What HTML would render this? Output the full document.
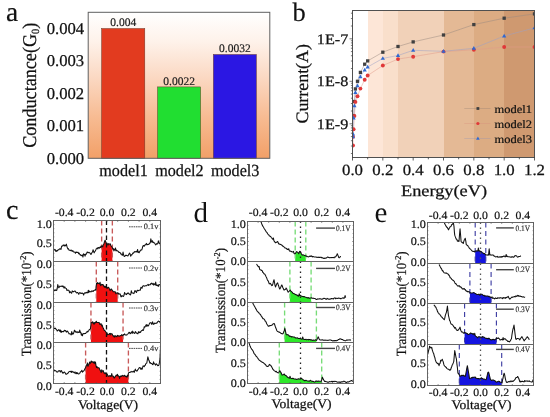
<!DOCTYPE html>
<html><head><meta charset="utf-8"><style>html,body{margin:0;padding:0;background:#fff;width:550px;height:417px;overflow:hidden} svg{display:block;will-change:transform} text{text-rendering:geometricPrecision}</style></head>
<body><svg width="550" height="417" viewBox="0 0 550 417"><defs><linearGradient id="ga" x1="0" y1="0" x2="0" y2="1"><stop offset="0" stop-color="#ffffff"/><stop offset="0.2" stop-color="#fef2ea"/><stop offset="0.45" stop-color="#fbd8c2"/><stop offset="0.72" stop-color="#f7bb92"/><stop offset="1" stop-color="#f2a068"/></linearGradient></defs>
<rect x="88.20" y="12.30" width="181.60" height="146.00" fill="url(#ga)"/>
<rect x="101.60" y="28.50" width="43.20" height="129.80" fill="#e23b1f" stroke="#6a3a2a" stroke-width="0.5"/>
<text x="123.20" y="26.30" font-family="Liberation Serif" font-size="11.5" text-anchor="middle" fill="#222" stroke="#222" stroke-width="0.2">0.004</text>
<rect x="157.50" y="86.91" width="43.20" height="71.39" fill="#21de31" stroke="#6a3a2a" stroke-width="0.5"/>
<text x="179.10" y="84.71" font-family="Liberation Serif" font-size="11.5" text-anchor="middle" fill="#222" stroke="#222" stroke-width="0.2">0.0022</text>
<rect x="213.30" y="54.46" width="43.10" height="103.84" fill="#2b17e3" stroke="#6a3a2a" stroke-width="0.5"/>
<text x="234.85" y="52.26" font-family="Liberation Serif" font-size="11.5" text-anchor="middle" fill="#222" stroke="#222" stroke-width="0.2">0.0032</text>
<rect x="88.20" y="12.30" width="181.60" height="146.00" fill="none" stroke="#606060" stroke-width="1.0"/>
<text x="84.20" y="163.80" font-family="Liberation Serif" font-size="16.5" text-anchor="end" textLength="37.5" lengthAdjust="spacingAndGlyphs" fill="#111" stroke="#111" stroke-width="0.25">0.000</text>
<text x="84.20" y="131.35" font-family="Liberation Serif" font-size="16.5" text-anchor="end" textLength="37.5" lengthAdjust="spacingAndGlyphs" fill="#111" stroke="#111" stroke-width="0.25">0.001</text>
<text x="84.20" y="98.90" font-family="Liberation Serif" font-size="16.5" text-anchor="end" textLength="37.5" lengthAdjust="spacingAndGlyphs" fill="#111" stroke="#111" stroke-width="0.25">0.002</text>
<text x="84.20" y="66.45" font-family="Liberation Serif" font-size="16.5" text-anchor="end" textLength="37.5" lengthAdjust="spacingAndGlyphs" fill="#111" stroke="#111" stroke-width="0.25">0.003</text>
<text x="84.20" y="34.00" font-family="Liberation Serif" font-size="16.5" text-anchor="end" textLength="37.5" lengthAdjust="spacingAndGlyphs" fill="#111" stroke="#111" stroke-width="0.25">0.004</text>
<text x="123.50" y="176.00" font-family="Liberation Serif" font-size="17" text-anchor="middle" textLength="48.5" lengthAdjust="spacingAndGlyphs" fill="#111" stroke="#111" stroke-width="0.25">model1</text>
<text x="179.40" y="176.00" font-family="Liberation Serif" font-size="17" text-anchor="middle" textLength="48.5" lengthAdjust="spacingAndGlyphs" fill="#111" stroke="#111" stroke-width="0.25">model2</text>
<text x="235.15" y="176.00" font-family="Liberation Serif" font-size="17" text-anchor="middle" textLength="48.5" lengthAdjust="spacingAndGlyphs" fill="#111" stroke="#111" stroke-width="0.25">model3</text>
<text transform="translate(35.8 85.3) rotate(-90)" font-family="Liberation Serif" font-size="19.5" text-anchor="middle" fill="#111" stroke="#111" stroke-width="0.25" textLength="125" lengthAdjust="spacingAndGlyphs">Conductance(G<tspan font-size="11" dy="3.5">0</tspan><tspan dy="-3.5">)</tspan></text>
<text x="6.00" y="20.60" font-family="Liberation Serif" font-size="27.5" fill="#111" stroke="#000" stroke-width="0.15">a</text>
<rect x="352.50" y="10.50" width="182.00" height="147.00" fill="#ffffff"/>
<rect x="368.00" y="10.50" width="15.00" height="147.00" fill="#fde6d7" shape-rendering="crispEdges"/>
<rect x="383.00" y="10.50" width="15.00" height="147.00" fill="#f9dfcb" shape-rendering="crispEdges"/>
<rect x="398.00" y="10.50" width="46.00" height="147.00" fill="#f1d1b8" shape-rendering="crispEdges"/>
<rect x="444.00" y="10.50" width="30.00" height="147.00" fill="#e4b995" shape-rendering="crispEdges"/>
<rect x="474.00" y="10.50" width="30.00" height="147.00" fill="#dcac83" shape-rendering="crispEdges"/>
<rect x="504.00" y="10.50" width="30.50" height="147.00" fill="#cf9970" shape-rendering="crispEdges"/>
<clipPath id="cb"><rect x="352.5" y="10.5" width="182.0" height="147.0"/></clipPath><g clip-path="url(#cb)">
<polyline points="534.50,13.90 504.17,18.20 473.83,24.60 443.50,35.00 413.17,41.90 398.00,46.50 382.83,52.20 367.67,60.90 364.70,64.20 360.40,72.40 357.50,81.30 355.40,88.90 354.40,101.50 353.60,115.60" fill="none" stroke="#9a8a80" stroke-width="0.5"/>
<polyline points="534.50,47.00 504.17,47.00 473.83,49.80 443.50,51.60 413.17,56.70 398.00,59.10 382.83,65.50 367.67,75.50 364.70,79.70 360.40,88.60 357.50,96.20 355.40,101.90 354.40,115.90 353.60,129.30 353.00,136.80 353.00,145.50" fill="none" stroke="#e09a8a" stroke-width="0.5"/>
<polyline points="534.50,27.90 504.17,36.00 473.83,48.30 443.50,51.30 413.17,50.30 398.00,55.50 382.83,58.40 367.67,67.00 364.70,70.00 360.40,76.70 357.50,85.80 355.40,92.50 354.40,105.80 353.60,118.00 353.00,134.00 353.00,136.80" fill="none" stroke="#9aa0c8" stroke-width="0.5"/>
<rect x="532.85" y="12.25" width="3.30" height="3.30" fill="#404040"/>
<rect x="502.52" y="16.55" width="3.30" height="3.30" fill="#404040"/>
<rect x="472.18" y="22.95" width="3.30" height="3.30" fill="#404040"/>
<rect x="441.85" y="33.35" width="3.30" height="3.30" fill="#404040"/>
<rect x="411.52" y="40.25" width="3.30" height="3.30" fill="#404040"/>
<rect x="396.35" y="44.85" width="3.30" height="3.30" fill="#404040"/>
<rect x="381.18" y="50.55" width="3.30" height="3.30" fill="#404040"/>
<rect x="366.02" y="59.25" width="3.30" height="3.30" fill="#404040"/>
<rect x="363.05" y="62.55" width="3.30" height="3.30" fill="#404040"/>
<rect x="358.75" y="70.75" width="3.30" height="3.30" fill="#404040"/>
<rect x="355.85" y="79.65" width="3.30" height="3.30" fill="#404040"/>
<rect x="353.75" y="87.25" width="3.30" height="3.30" fill="#404040"/>
<rect x="352.75" y="99.85" width="3.30" height="3.30" fill="#404040"/>
<rect x="351.95" y="113.95" width="3.30" height="3.30" fill="#404040"/>
<circle cx="534.50" cy="47.00" r="1.95" fill="#e03838"/>
<circle cx="504.17" cy="47.00" r="1.95" fill="#e03838"/>
<circle cx="473.83" cy="49.80" r="1.95" fill="#e03838"/>
<circle cx="443.50" cy="51.60" r="1.95" fill="#e03838"/>
<circle cx="413.17" cy="56.70" r="1.95" fill="#e03838"/>
<circle cx="398.00" cy="59.10" r="1.95" fill="#e03838"/>
<circle cx="382.83" cy="65.50" r="1.95" fill="#e03838"/>
<circle cx="367.67" cy="75.50" r="1.95" fill="#e03838"/>
<circle cx="364.70" cy="79.70" r="1.95" fill="#e03838"/>
<circle cx="360.40" cy="88.60" r="1.95" fill="#e03838"/>
<circle cx="357.50" cy="96.20" r="1.95" fill="#e03838"/>
<circle cx="355.40" cy="101.90" r="1.95" fill="#e03838"/>
<circle cx="354.40" cy="115.90" r="1.95" fill="#e03838"/>
<circle cx="353.60" cy="129.30" r="1.95" fill="#e03838"/>
<circle cx="353.00" cy="136.80" r="1.95" fill="#e03838"/>
<circle cx="353.00" cy="145.50" r="1.95" fill="#e03838"/>
<polygon points="534.50,25.71 532.40,29.36 536.60,29.36" fill="#3068d0"/>
<polygon points="504.17,33.81 502.07,37.46 506.27,37.46" fill="#3068d0"/>
<polygon points="473.83,46.11 471.73,49.76 475.93,49.76" fill="#3068d0"/>
<polygon points="443.50,49.11 441.40,52.76 445.60,52.76" fill="#3068d0"/>
<polygon points="413.17,48.11 411.07,51.76 415.27,51.76" fill="#3068d0"/>
<polygon points="398.00,53.31 395.90,56.96 400.10,56.96" fill="#3068d0"/>
<polygon points="382.83,56.21 380.73,59.86 384.93,59.86" fill="#3068d0"/>
<polygon points="367.67,64.81 365.57,68.46 369.77,68.46" fill="#3068d0"/>
<polygon points="364.70,67.81 362.60,71.46 366.80,71.46" fill="#3068d0"/>
<polygon points="360.40,74.51 358.30,78.16 362.50,78.16" fill="#3068d0"/>
<polygon points="357.50,83.61 355.40,87.26 359.60,87.26" fill="#3068d0"/>
<polygon points="355.40,90.31 353.30,93.96 357.50,93.96" fill="#3068d0"/>
<polygon points="354.40,103.61 352.30,107.26 356.50,107.26" fill="#3068d0"/>
<polygon points="353.60,115.81 351.50,119.46 355.70,119.46" fill="#3068d0"/>
<polygon points="353.00,131.81 350.90,135.46 355.10,135.46" fill="#3068d0"/>
<polygon points="353.00,134.61 350.90,138.26 355.10,138.26" fill="#3068d0"/>
</g>
<rect x="352.50" y="10.50" width="182.00" height="147.00" fill="none" stroke="#505050" stroke-width="1.0"/>
<line x1="352.50" y1="157.50" x2="352.50" y2="160.50" stroke="#333" stroke-width="0.8"/>
<line x1="367.67" y1="157.50" x2="367.67" y2="159.30" stroke="#333" stroke-width="0.8"/>
<line x1="382.83" y1="157.50" x2="382.83" y2="160.50" stroke="#333" stroke-width="0.8"/>
<line x1="398.00" y1="157.50" x2="398.00" y2="159.30" stroke="#333" stroke-width="0.8"/>
<line x1="413.17" y1="157.50" x2="413.17" y2="160.50" stroke="#333" stroke-width="0.8"/>
<line x1="428.33" y1="157.50" x2="428.33" y2="159.30" stroke="#333" stroke-width="0.8"/>
<line x1="443.50" y1="157.50" x2="443.50" y2="160.50" stroke="#333" stroke-width="0.8"/>
<line x1="458.67" y1="157.50" x2="458.67" y2="159.30" stroke="#333" stroke-width="0.8"/>
<line x1="473.83" y1="157.50" x2="473.83" y2="160.50" stroke="#333" stroke-width="0.8"/>
<line x1="489.00" y1="157.50" x2="489.00" y2="159.30" stroke="#333" stroke-width="0.8"/>
<line x1="504.17" y1="157.50" x2="504.17" y2="160.50" stroke="#333" stroke-width="0.8"/>
<line x1="519.33" y1="157.50" x2="519.33" y2="159.30" stroke="#333" stroke-width="0.8"/>
<line x1="534.50" y1="157.50" x2="534.50" y2="160.50" stroke="#333" stroke-width="0.8"/>
<text x="352.50" y="175.00" font-family="Liberation Serif" font-size="15.5" text-anchor="middle" textLength="21" lengthAdjust="spacingAndGlyphs" fill="#111" stroke="#111" stroke-width="0.25">0.0</text>
<text x="382.83" y="175.00" font-family="Liberation Serif" font-size="15.5" text-anchor="middle" textLength="21" lengthAdjust="spacingAndGlyphs" fill="#111" stroke="#111" stroke-width="0.25">0.2</text>
<text x="413.17" y="175.00" font-family="Liberation Serif" font-size="15.5" text-anchor="middle" textLength="21" lengthAdjust="spacingAndGlyphs" fill="#111" stroke="#111" stroke-width="0.25">0.4</text>
<text x="443.50" y="175.00" font-family="Liberation Serif" font-size="15.5" text-anchor="middle" textLength="21" lengthAdjust="spacingAndGlyphs" fill="#111" stroke="#111" stroke-width="0.25">0.6</text>
<text x="473.83" y="175.00" font-family="Liberation Serif" font-size="15.5" text-anchor="middle" textLength="21" lengthAdjust="spacingAndGlyphs" fill="#111" stroke="#111" stroke-width="0.25">0.8</text>
<text x="504.17" y="175.00" font-family="Liberation Serif" font-size="15.5" text-anchor="middle" textLength="21" lengthAdjust="spacingAndGlyphs" fill="#111" stroke="#111" stroke-width="0.25">1.0</text>
<text x="534.50" y="175.00" font-family="Liberation Serif" font-size="15.5" text-anchor="middle" textLength="21" lengthAdjust="spacingAndGlyphs" fill="#111" stroke="#111" stroke-width="0.25">1.2</text>
<text x="444.00" y="196.00" font-family="Liberation Serif" font-size="16" text-anchor="middle" textLength="86" lengthAdjust="spacingAndGlyphs" fill="#111" stroke="#111" stroke-width="0.25">Energy(eV)</text>
<line x1="350.90" y1="153.51" x2="352.50" y2="153.51" stroke="#444" stroke-width="0.7"/>
<line x1="350.90" y1="146.02" x2="352.50" y2="146.02" stroke="#444" stroke-width="0.7"/>
<line x1="350.90" y1="140.71" x2="352.50" y2="140.71" stroke="#444" stroke-width="0.7"/>
<line x1="350.90" y1="136.59" x2="352.50" y2="136.59" stroke="#444" stroke-width="0.7"/>
<line x1="350.90" y1="133.23" x2="352.50" y2="133.23" stroke="#444" stroke-width="0.7"/>
<line x1="350.90" y1="130.38" x2="352.50" y2="130.38" stroke="#444" stroke-width="0.7"/>
<line x1="350.90" y1="127.92" x2="352.50" y2="127.92" stroke="#444" stroke-width="0.7"/>
<line x1="350.90" y1="125.74" x2="352.50" y2="125.74" stroke="#444" stroke-width="0.7"/>
<line x1="349.50" y1="123.80" x2="352.50" y2="123.80" stroke="#444" stroke-width="0.7"/>
<line x1="350.90" y1="111.01" x2="352.50" y2="111.01" stroke="#444" stroke-width="0.7"/>
<line x1="350.90" y1="103.52" x2="352.50" y2="103.52" stroke="#444" stroke-width="0.7"/>
<line x1="350.90" y1="98.21" x2="352.50" y2="98.21" stroke="#444" stroke-width="0.7"/>
<line x1="350.90" y1="94.09" x2="352.50" y2="94.09" stroke="#444" stroke-width="0.7"/>
<line x1="350.90" y1="90.73" x2="352.50" y2="90.73" stroke="#444" stroke-width="0.7"/>
<line x1="350.90" y1="87.88" x2="352.50" y2="87.88" stroke="#444" stroke-width="0.7"/>
<line x1="350.90" y1="85.42" x2="352.50" y2="85.42" stroke="#444" stroke-width="0.7"/>
<line x1="350.90" y1="83.24" x2="352.50" y2="83.24" stroke="#444" stroke-width="0.7"/>
<line x1="349.50" y1="81.30" x2="352.50" y2="81.30" stroke="#444" stroke-width="0.7"/>
<line x1="350.90" y1="68.51" x2="352.50" y2="68.51" stroke="#444" stroke-width="0.7"/>
<line x1="350.90" y1="61.02" x2="352.50" y2="61.02" stroke="#444" stroke-width="0.7"/>
<line x1="350.90" y1="55.71" x2="352.50" y2="55.71" stroke="#444" stroke-width="0.7"/>
<line x1="350.90" y1="51.59" x2="352.50" y2="51.59" stroke="#444" stroke-width="0.7"/>
<line x1="350.90" y1="48.23" x2="352.50" y2="48.23" stroke="#444" stroke-width="0.7"/>
<line x1="350.90" y1="45.38" x2="352.50" y2="45.38" stroke="#444" stroke-width="0.7"/>
<line x1="350.90" y1="42.92" x2="352.50" y2="42.92" stroke="#444" stroke-width="0.7"/>
<line x1="350.90" y1="40.74" x2="352.50" y2="40.74" stroke="#444" stroke-width="0.7"/>
<line x1="349.50" y1="38.80" x2="352.50" y2="38.80" stroke="#444" stroke-width="0.7"/>
<line x1="350.90" y1="26.01" x2="352.50" y2="26.01" stroke="#444" stroke-width="0.7"/>
<line x1="350.90" y1="18.52" x2="352.50" y2="18.52" stroke="#444" stroke-width="0.7"/>
<line x1="350.90" y1="13.21" x2="352.50" y2="13.21" stroke="#444" stroke-width="0.7"/>
<text x="348.30" y="43.80" font-family="Liberation Serif" font-size="14.5" text-anchor="end" textLength="31.5" lengthAdjust="spacingAndGlyphs" fill="#111" stroke="#111" stroke-width="0.25">1E-7</text>
<text x="348.30" y="86.30" font-family="Liberation Serif" font-size="14.5" text-anchor="end" textLength="31.5" lengthAdjust="spacingAndGlyphs" fill="#111" stroke="#111" stroke-width="0.25">1E-8</text>
<text x="348.30" y="128.80" font-family="Liberation Serif" font-size="14.5" text-anchor="end" textLength="31.5" lengthAdjust="spacingAndGlyphs" fill="#111" stroke="#111" stroke-width="0.25">1E-9</text>
<text transform="translate(308.2 83.8) rotate(-90)" font-family="Liberation Serif" font-size="17.5" text-anchor="middle" fill="#111" stroke="#111" stroke-width="0.25" textLength="79.5" lengthAdjust="spacingAndGlyphs">Current(A)</text>
<text x="292.50" y="20.70" font-family="Liberation Serif" font-size="26.5" fill="#111" stroke="#000" stroke-width="0.15">b</text>
<line x1="464.30" y1="108.50" x2="490.50" y2="108.50" stroke="#8a7a70" stroke-width="0.5" stroke-opacity="0.6"/>
<rect x="476.50" y="107.10" width="2.80" height="2.80" fill="#404040"/>
<text x="494.60" y="112.70" font-family="Liberation Serif" font-size="11.5" textLength="37.5" lengthAdjust="spacingAndGlyphs" fill="#111" stroke="#111" stroke-width="0.2">model1</text>
<line x1="464.30" y1="123.50" x2="490.50" y2="123.50" stroke="#d88a7a" stroke-width="0.5" stroke-opacity="0.6"/>
<circle cx="477.90" cy="123.50" r="1.6" fill="#e03838"/>
<text x="494.60" y="127.70" font-family="Liberation Serif" font-size="11.5" textLength="37.5" lengthAdjust="spacingAndGlyphs" fill="#111" stroke="#111" stroke-width="0.2">model2</text>
<line x1="464.30" y1="138.50" x2="490.50" y2="138.50" stroke="#8a90b8" stroke-width="0.5" stroke-opacity="0.6"/>
<polygon points="477.90,136.62 476.10,139.75 479.70,139.75" fill="#3068d0"/>
<text x="494.60" y="142.70" font-family="Liberation Serif" font-size="11.5" textLength="37.5" lengthAdjust="spacingAndGlyphs" fill="#111" stroke="#111" stroke-width="0.2">model3</text>
<path d="M101.65,261.50 L101.65,247.11 L102.19,245.92 L102.72,246.86 L103.25,244.94 L103.79,244.28 L104.43,241.96 L105.07,240.18 L105.72,241.70 L106.36,243.46 L106.93,243.12 L107.50,244.30 L108.07,245.10 L108.64,243.57 L109.21,243.93 L109.78,244.28 L110.29,243.76 L110.80,245.68 L111.31,246.13 L111.81,246.74 L112.33,247.73 L112.35,247.78 L112.35,261.50 Z" fill="#f01010"/>
<line x1="101.65" y1="220.50" x2="101.65" y2="261.50" stroke="#c85a5a" stroke-width="1.35" stroke-dasharray="5,3"/>
<line x1="112.35" y1="220.50" x2="112.35" y2="261.50" stroke="#c85a5a" stroke-width="1.35" stroke-dasharray="5,3"/>
<line x1="106.50" y1="220.50" x2="106.50" y2="261.50" stroke="#111" stroke-width="1.3" stroke-dasharray="4.5,3"/>
<polyline points="53.50,248.79 54.04,249.77 54.57,250.06 55.11,249.48 55.64,251.08 56.18,251.47 56.71,250.43 57.25,250.96 57.78,250.10 58.32,249.74 58.85,249.85 59.38,248.94 59.92,248.79 60.45,248.86 60.99,249.41 61.52,246.65 62.06,245.92 62.59,245.92 63.13,244.97 63.66,245.11 64.20,245.96 64.73,245.01 65.27,245.92 65.81,245.35 66.34,244.14 66.88,246.22 67.41,247.71 67.94,249.01 68.48,248.79 69.02,250.15 69.55,250.31 70.09,250.19 70.62,250.66 71.16,249.99 71.69,250.77 72.22,251.25 72.76,250.49 73.30,251.66 73.83,252.07 74.37,252.08 74.90,252.19 75.44,253.31 75.97,252.01 76.50,252.50 77.04,252.19 77.58,252.41 78.11,252.25 78.64,253.80 79.18,253.17 79.72,254.14 80.25,255.09 80.78,254.83 81.32,255.61 81.86,255.79 82.39,254.94 82.92,257.07 83.46,253.82 84.00,254.77 84.53,254.32 85.06,256.13 85.60,254.14 86.13,254.39 86.67,253.28 87.20,251.98 87.74,252.48 88.28,252.75 88.81,252.27 89.34,252.59 89.88,252.95 90.41,253.72 90.95,254.49 91.48,253.41 92.02,252.48 92.56,251.84 93.09,249.72 93.62,251.48 94.16,252.85 94.69,251.73 95.23,251.09 95.77,249.96 96.30,248.75 96.84,248.46 97.37,247.88 97.91,248.88 98.44,247.56 98.97,247.55 99.51,248.18 100.05,246.95 100.58,247.36 101.12,246.01 101.65,247.11 102.19,245.92 102.72,246.86 103.25,244.94 103.79,244.28 104.43,241.96 105.07,240.18 105.72,241.70 106.36,243.46 106.93,243.12 107.50,244.30 108.07,245.10 108.64,243.57 109.21,243.93 109.78,244.28 110.29,243.76 110.80,245.68 111.31,246.13 111.81,246.74 112.33,247.73 112.85,249.17 113.37,248.60 113.88,250.88 114.40,249.24 114.92,250.02 115.46,247.92 116.01,250.91 116.55,250.13 117.10,250.78 117.64,251.07 118.19,251.33 118.73,252.32 119.28,252.49 119.82,252.20 120.37,253.01 120.91,254.12 121.45,253.95 121.98,255.02 122.52,255.28 123.05,252.08 123.59,254.87 124.12,256.32 124.66,256.42 125.19,255.75 125.73,255.26 126.26,255.25 126.80,255.49 127.33,255.76 127.88,255.90 128.44,254.91 128.99,253.97 129.55,253.08 130.10,254.03 130.66,256.21 131.21,254.88 131.77,254.96 132.32,254.02 132.87,252.94 133.43,253.30 133.95,252.44 134.46,251.66 134.98,251.95 135.50,251.59 136.01,251.86 136.53,251.22 137.05,251.95 137.57,249.42 138.08,252.36 138.60,251.80 139.12,252.75 139.63,251.66 140.15,250.88 140.67,250.01 141.19,249.90 141.70,250.02 142.22,248.61 142.74,246.43 143.26,245.47 143.77,245.81 144.29,246.24 144.81,245.05 145.32,245.07 145.84,244.28 146.40,243.41 146.95,244.92 147.50,244.39 148.06,244.22 148.61,244.38 149.17,244.08 149.72,243.01 150.28,242.90 150.83,238.86 151.39,241.18 151.94,242.23 152.48,240.77 153.01,242.38 153.55,242.35 154.08,242.94 154.62,243.10 155.15,244.04 155.69,244.84 156.22,244.28 156.75,243.62 157.29,243.98 157.82,243.59 158.36,240.84 158.89,242.22 159.43,243.45 159.97,243.99 160.50,242.23" fill="none" stroke="#111" stroke-width="1.05" stroke-linejoin="round"/>
<line x1="129.00" y1="226.80" x2="142.00" y2="226.80" stroke="#333" stroke-width="0.9" stroke-dasharray="1.6,0.7"/>
<text x="143.80" y="229.40" font-family="Liberation Serif" font-size="8.2" textLength="14.6" lengthAdjust="spacingAndGlyphs" fill="#333" stroke="#333" stroke-width="0.2">0.1v</text>
<path d="M96.30,302.50 L96.30,285.55 L96.51,283.23 L97.01,283.89 L97.51,282.61 L98.01,283.50 L98.51,283.35 L99.01,283.40 L99.51,284.05 L100.07,282.27 L100.62,285.75 L101.18,285.16 L101.74,284.22 L102.29,284.87 L102.81,284.44 L103.34,285.10 L103.86,286.63 L104.38,287.11 L104.90,285.92 L105.42,287.41 L105.94,286.57 L106.47,286.92 L106.98,287.69 L107.50,288.30 L108.02,287.34 L108.53,287.36 L109.05,288.13 L109.57,289.31 L110.09,290.68 L110.60,289.75 L111.12,288.91 L111.64,289.38 L112.15,290.24 L112.67,290.61 L113.20,291.72 L113.72,291.70 L114.24,291.72 L114.77,291.86 L115.29,291.79 L115.82,293.78 L116.34,293.01 L116.87,293.04 L117.39,292.71 L117.70,293.41 L117.70,302.50 Z" fill="#f01010"/>
<line x1="96.30" y1="261.50" x2="96.30" y2="302.50" stroke="#c85a5a" stroke-width="1.35" stroke-dasharray="5,3"/>
<line x1="117.70" y1="261.50" x2="117.70" y2="302.50" stroke="#c85a5a" stroke-width="1.35" stroke-dasharray="5,3"/>
<line x1="106.50" y1="261.50" x2="106.50" y2="302.50" stroke="#111" stroke-width="1.3" stroke-dasharray="4.5,3"/>
<polyline points="53.50,290.20 54.04,290.86 54.57,289.93 55.11,290.56 55.64,289.87 56.18,290.23 56.71,290.37 57.24,288.25 57.78,284.54 58.31,286.47 58.85,287.74 59.38,286.94 59.92,286.10 60.45,286.36 60.99,286.49 61.52,286.30 62.06,285.79 62.59,286.66 63.13,286.10 63.67,287.23 64.20,288.16 64.73,286.79 65.27,287.72 65.81,288.35 66.34,288.40 66.88,290.42 67.41,290.20 67.94,289.91 68.48,290.25 69.02,290.53 69.55,292.76 70.09,291.64 70.62,292.36 71.16,292.87 71.69,293.23 72.22,290.90 72.76,291.33 73.30,291.84 73.84,291.41 74.39,291.35 74.94,290.93 75.49,291.64 76.04,292.42 76.59,292.97 77.14,292.62 77.69,292.52 78.24,293.31 78.79,294.34 79.34,292.92 79.89,292.58 80.44,292.98 80.98,293.51 81.53,293.48 82.06,292.91 82.58,293.50 83.10,293.57 83.62,295.07 84.14,293.53 84.66,292.86 85.19,293.11 85.71,292.62 86.23,293.04 86.75,292.27 87.27,292.43 87.79,292.91 88.32,290.17 88.84,292.42 89.36,291.00 89.88,291.84 90.42,291.68 90.97,291.88 91.51,291.10 92.06,290.86 92.60,291.33 93.15,291.47 93.69,290.50 94.24,290.43 94.78,290.06 95.33,289.47 95.87,290.20 96.51,283.23 97.01,283.89 97.51,282.61 98.01,283.50 98.51,283.35 99.01,283.40 99.51,284.05 100.07,282.27 100.62,285.75 101.18,285.16 101.74,284.22 102.29,284.87 102.81,284.44 103.34,285.10 103.86,286.63 104.38,287.11 104.90,285.92 105.42,287.41 105.94,286.57 106.47,286.92 106.98,287.69 107.50,288.30 108.02,287.34 108.53,287.36 109.05,288.13 109.57,289.31 110.09,290.68 110.60,289.75 111.12,288.91 111.64,289.38 112.15,290.24 112.67,290.61 113.20,291.72 113.72,291.70 114.24,291.72 114.77,291.86 115.29,291.79 115.82,293.78 116.34,293.01 116.87,293.04 117.39,292.71 117.91,293.89 118.42,293.10 118.93,294.25 119.44,293.91 119.95,293.73 120.46,294.81 120.96,296.82 121.47,296.82 121.98,295.53 122.50,296.08 123.02,296.31 123.54,296.41 124.06,295.00 124.58,292.42 125.10,293.88 125.62,294.00 126.14,294.29 126.66,294.58 127.18,293.19 127.70,293.55 128.22,292.92 128.74,293.23 129.26,294.30 129.78,294.16 130.30,294.96 130.82,293.91 131.34,290.69 131.86,292.80 132.39,293.09 132.91,292.98 133.43,293.36 133.95,293.63 134.47,291.83 134.99,290.45 135.52,291.14 136.04,292.07 136.56,292.46 137.08,290.46 137.60,290.20 138.15,290.81 138.70,290.39 139.25,290.14 139.80,290.20 140.35,290.27 140.90,287.25 141.45,287.71 142.00,288.28 142.55,286.30 143.09,285.84 143.64,285.75 144.19,286.14 144.74,286.03 145.29,285.71 145.84,285.69 146.40,285.82 146.95,285.28 147.50,284.86 148.06,284.28 148.61,285.45 149.17,284.78 149.72,284.73 150.28,284.84 150.83,283.38 151.39,283.14 151.94,284.05 152.48,284.28 153.01,283.32 153.55,285.01 154.08,283.76 154.62,284.14 155.15,285.03 155.69,282.06 156.22,285.36 156.75,284.96 157.29,285.81 157.82,285.10 158.36,286.36 158.89,284.53 159.43,284.87 159.97,284.62 160.50,284.46" fill="none" stroke="#111" stroke-width="1.05" stroke-linejoin="round"/>
<line x1="129.00" y1="268.00" x2="142.00" y2="268.00" stroke="#333" stroke-width="0.9" stroke-dasharray="1.6,0.7"/>
<text x="143.80" y="270.60" font-family="Liberation Serif" font-size="8.2" textLength="14.6" lengthAdjust="spacingAndGlyphs" fill="#333" stroke="#333" stroke-width="0.2">0.2v</text>
<path d="M90.95,342.50 L90.95,324.33 L91.16,322.50 L91.66,322.71 L92.16,322.57 L92.66,321.77 L93.16,323.25 L93.66,324.05 L94.16,322.50 L94.69,323.89 L95.23,322.35 L95.77,322.43 L96.30,321.30 L96.89,322.38 L97.48,322.45 L98.07,322.56 L98.65,322.50 L99.15,322.48 L99.64,324.31 L100.13,323.78 L100.62,324.45 L101.12,323.70 L101.65,326.00 L102.19,325.04 L102.72,326.83 L103.25,328.31 L103.79,329.30 L104.32,330.40 L104.86,330.44 L105.39,331.22 L105.93,332.13 L106.47,332.95 L107.00,332.90 L107.53,334.73 L108.07,334.51 L108.61,334.29 L109.14,333.99 L109.68,333.47 L110.21,334.90 L110.72,333.41 L111.24,333.64 L111.75,334.13 L112.26,333.93 L112.78,335.71 L113.29,335.61 L113.81,336.67 L114.32,337.07 L114.83,335.63 L115.35,335.70 L115.87,336.78 L116.40,336.24 L116.93,336.72 L117.46,335.36 L117.98,335.67 L118.51,335.75 L119.04,336.36 L119.56,336.20 L120.09,335.61 L120.62,335.65 L121.15,335.45 L121.67,334.67 L122.20,335.51 L122.73,335.70 L123.05,335.00 L123.05,342.50 Z" fill="#f01010"/>
<line x1="90.95" y1="302.50" x2="90.95" y2="342.50" stroke="#c85a5a" stroke-width="1.35" stroke-dasharray="5,3"/>
<line x1="123.05" y1="302.50" x2="123.05" y2="342.50" stroke="#c85a5a" stroke-width="1.35" stroke-dasharray="5,3"/>
<line x1="106.50" y1="302.50" x2="106.50" y2="342.50" stroke="#111" stroke-width="1.3" stroke-dasharray="4.5,3"/>
<polyline points="53.50,327.30 54.04,328.74 54.57,328.50 55.11,328.03 55.64,328.59 56.18,329.49 56.71,329.70 57.25,331.06 57.78,330.48 58.32,330.18 58.85,329.55 59.38,330.11 59.92,331.45 60.45,330.03 60.99,332.50 61.52,331.11 62.06,331.88 62.59,331.45 63.13,331.57 63.66,331.81 64.20,330.54 64.73,330.27 65.27,330.90 65.81,330.65 66.34,332.12 66.88,331.76 67.41,331.06 67.94,331.75 68.48,332.85 69.02,333.85 69.55,333.70 70.09,333.99 70.64,333.96 71.18,334.88 71.73,331.58 72.27,334.30 72.82,333.19 73.36,333.83 73.91,332.37 74.45,330.17 75.00,330.93 75.54,332.10 76.07,331.66 76.59,332.23 77.12,332.59 77.65,331.88 78.17,331.93 78.70,332.56 79.22,332.40 79.75,330.08 80.28,332.41 80.80,332.33 81.33,335.17 81.86,333.70 82.39,335.84 82.92,334.04 83.46,333.52 84.00,333.59 84.53,333.63 85.06,333.58 85.60,333.50 86.13,332.67 86.67,331.96 87.20,331.19 87.74,332.10 88.28,331.18 88.81,330.53 89.34,329.45 89.88,329.27 90.41,328.90 91.16,322.50 91.66,322.71 92.16,322.57 92.66,321.77 93.16,323.25 93.66,324.05 94.16,322.50 94.69,323.89 95.23,322.35 95.77,322.43 96.30,321.30 96.89,322.38 97.48,322.45 98.07,322.56 98.65,322.50 99.15,322.48 99.64,324.31 100.13,323.78 100.62,324.45 101.12,323.70 101.65,326.00 102.19,325.04 102.72,326.83 103.25,328.31 103.79,329.30 104.32,330.40 104.86,330.44 105.39,331.22 105.93,332.13 106.47,332.95 107.00,332.90 107.53,334.73 108.07,334.51 108.61,334.29 109.14,333.99 109.68,333.47 110.21,334.90 110.72,333.41 111.24,333.64 111.75,334.13 112.26,333.93 112.78,335.71 113.29,335.61 113.81,336.67 114.32,337.07 114.83,335.63 115.35,335.70 115.87,336.78 116.40,336.24 116.93,336.72 117.46,335.36 117.98,335.67 118.51,335.75 119.04,336.36 119.56,336.20 120.09,335.61 120.62,335.65 121.15,335.45 121.67,334.67 122.20,335.51 122.73,335.70 123.19,334.69 123.66,334.95 124.12,334.50 124.66,333.91 125.21,334.89 125.75,334.99 126.30,334.98 126.84,335.10 127.39,334.11 127.93,333.87 128.48,333.32 129.02,332.22 129.57,332.43 130.11,333.70 130.63,333.58 131.16,332.54 131.68,331.92 132.20,333.45 132.72,331.13 133.24,332.59 133.76,332.76 134.28,333.25 134.81,333.42 135.33,331.59 135.85,332.21 136.37,332.95 136.89,333.24 137.41,333.64 137.94,333.76 138.46,331.70 138.99,332.23 139.51,332.65 140.04,331.73 140.57,332.37 141.10,331.08 141.63,330.62 142.16,330.59 142.68,329.71 143.21,330.49 143.74,329.16 144.27,326.72 144.80,327.08 145.33,326.36 145.85,325.38 146.38,324.58 146.91,326.50 147.43,324.95 147.95,325.36 148.48,325.82 149.00,324.65 149.52,323.38 150.04,322.81 150.56,322.65 151.08,322.90 151.61,324.23 152.13,322.84 152.65,321.85 153.17,324.46 153.69,323.77 154.21,323.92 154.74,323.05 155.26,323.30 155.78,323.46 156.30,323.05 156.82,323.12 157.34,322.33 157.87,321.58 158.39,321.06 158.91,321.34 159.43,321.70 159.97,321.64 160.50,323.70" fill="none" stroke="#111" stroke-width="1.05" stroke-linejoin="round"/>
<line x1="129.00" y1="308.00" x2="142.00" y2="308.00" stroke="#333" stroke-width="0.9" stroke-dasharray="1.6,0.7"/>
<text x="143.80" y="310.60" font-family="Liberation Serif" font-size="8.2" textLength="14.6" lengthAdjust="spacingAndGlyphs" fill="#333" stroke="#333" stroke-width="0.2">0.3v</text>
<path d="M85.60,383.50 L85.60,367.92 L86.35,365.05 L86.91,365.27 L87.46,362.90 L88.02,366.33 L88.57,365.13 L89.13,363.82 L89.67,361.94 L90.20,363.41 L90.74,362.28 L91.27,360.95 L91.81,362.26 L92.34,362.32 L92.88,361.50 L93.41,362.59 L93.93,363.15 L94.45,361.72 L94.96,363.64 L95.48,361.95 L96.00,365.60 L96.51,367.51 L97.04,366.59 L97.56,367.86 L98.08,367.82 L98.60,367.71 L99.12,368.02 L99.64,369.44 L100.17,370.15 L100.69,371.20 L101.21,372.60 L101.73,369.77 L102.25,371.24 L102.77,370.98 L103.30,370.67 L103.82,372.92 L104.34,372.78 L104.86,373.66 L105.39,372.92 L105.93,373.46 L106.47,374.52 L107.00,373.92 L107.53,374.87 L108.07,376.08 L108.61,376.40 L109.14,375.71 L109.66,375.98 L110.18,375.67 L110.70,376.39 L111.23,376.34 L111.75,373.57 L112.27,375.91 L112.79,376.32 L113.31,376.12 L113.83,377.73 L114.36,377.96 L114.88,376.71 L115.40,376.82 L115.92,375.37 L116.44,374.96 L116.96,375.59 L117.49,374.34 L118.01,376.15 L118.53,375.75 L119.05,376.27 L119.57,378.37 L120.09,376.35 L120.62,376.48 L121.14,375.69 L121.66,376.53 L122.19,375.80 L122.71,375.41 L123.24,376.02 L123.76,376.26 L124.29,375.50 L124.82,375.26 L125.34,376.60 L125.87,376.41 L126.39,376.34 L126.92,377.32 L127.45,375.32 L127.97,376.12 L128.40,373.25 L128.40,383.50 Z" fill="#f01010"/>
<line x1="85.60" y1="342.50" x2="85.60" y2="383.50" stroke="#c85a5a" stroke-width="1.35" stroke-dasharray="5,3"/>
<line x1="128.40" y1="342.50" x2="128.40" y2="383.50" stroke="#c85a5a" stroke-width="1.35" stroke-dasharray="5,3"/>
<line x1="106.50" y1="342.50" x2="106.50" y2="383.50" stroke="#111" stroke-width="1.3" stroke-dasharray="4.5,3"/>
<polyline points="53.50,370.79 54.04,371.06 54.57,370.11 55.11,370.60 55.64,370.67 56.18,371.34 56.71,372.02 57.23,372.04 57.75,372.10 58.27,371.12 58.80,370.69 59.32,370.95 59.84,370.61 60.36,372.11 60.88,371.20 61.40,370.60 61.93,371.58 62.45,373.03 62.97,372.59 63.49,373.05 64.01,372.29 64.53,372.00 65.06,372.84 65.58,373.65 66.11,374.39 66.63,374.04 67.16,373.85 67.69,373.14 68.21,372.91 68.74,371.93 69.26,371.62 69.79,371.38 70.32,371.62 70.84,371.32 71.37,372.43 71.89,371.13 72.40,371.98 72.92,371.85 73.44,372.08 73.95,372.61 74.47,372.98 74.99,371.85 75.51,373.13 76.02,373.80 76.54,372.52 77.06,373.61 77.58,372.84 78.11,373.85 78.64,374.04 79.18,373.70 79.72,373.30 80.25,372.16 80.78,371.58 81.32,371.25 81.86,370.26 82.39,372.13 82.92,371.65 83.46,371.20 84.00,370.51 84.53,369.82 85.06,368.33 85.60,367.92 86.35,365.05 86.91,365.27 87.46,362.90 88.02,366.33 88.57,365.13 89.13,363.82 89.67,361.94 90.20,363.41 90.74,362.28 91.27,360.95 91.81,362.26 92.34,362.32 92.88,361.50 93.41,362.59 93.93,363.15 94.45,361.72 94.96,363.64 95.48,361.95 96.00,365.60 96.51,367.51 97.04,366.59 97.56,367.86 98.08,367.82 98.60,367.71 99.12,368.02 99.64,369.44 100.17,370.15 100.69,371.20 101.21,372.60 101.73,369.77 102.25,371.24 102.77,370.98 103.30,370.67 103.82,372.92 104.34,372.78 104.86,373.66 105.39,372.92 105.93,373.46 106.47,374.52 107.00,373.92 107.53,374.87 108.07,376.08 108.61,376.40 109.14,375.71 109.66,375.98 110.18,375.67 110.70,376.39 111.23,376.34 111.75,373.57 112.27,375.91 112.79,376.32 113.31,376.12 113.83,377.73 114.36,377.96 114.88,376.71 115.40,376.82 115.92,375.37 116.44,374.96 116.96,375.59 117.49,374.34 118.01,376.15 118.53,375.75 119.05,376.27 119.57,378.37 120.09,376.35 120.62,376.48 121.14,375.69 121.66,376.53 122.19,375.80 122.71,375.41 123.24,376.02 123.76,376.26 124.29,375.50 124.82,375.26 125.34,376.60 125.87,376.41 126.39,376.34 126.92,377.32 127.45,375.32 127.97,376.12 128.40,373.25 128.94,372.41 129.47,372.40 130.00,372.24 130.54,372.32 131.07,371.40 131.61,371.76 132.14,372.02 132.67,371.56 133.20,371.70 133.72,370.95 134.25,372.34 134.78,370.80 135.30,369.11 135.83,370.41 136.35,370.64 136.88,371.23 137.41,370.40 137.93,369.42 138.46,369.15 138.98,367.87 139.51,367.63 140.04,367.49 140.56,369.01 141.09,369.17 141.61,368.16 142.14,369.18 142.67,367.27 143.19,365.74 143.72,366.31 144.24,366.65 144.77,365.46 145.28,365.23 145.79,363.64 146.30,363.36 146.80,363.00 147.34,359.79 147.87,356.85 148.36,358.61 148.84,360.33 149.32,361.13 149.80,363.00 150.34,362.53 150.87,363.39 151.41,363.43 151.94,363.68 152.48,364.53 153.01,364.64 153.55,361.88 154.08,363.72 154.62,363.71 155.15,364.43 155.69,365.12 156.22,363.82 156.75,364.45 157.29,364.86 157.82,365.75 158.36,365.57 158.89,365.05 159.43,362.61 159.97,358.90 160.50,347.42" fill="none" stroke="#111" stroke-width="1.05" stroke-linejoin="round"/>
<line x1="129.00" y1="348.40" x2="142.00" y2="348.40" stroke="#333" stroke-width="0.9" stroke-dasharray="1.6,0.7"/>
<text x="143.80" y="351.00" font-family="Liberation Serif" font-size="8.2" textLength="14.6" lengthAdjust="spacingAndGlyphs" fill="#333" stroke="#333" stroke-width="0.2">0.4v</text>
<rect x="53.50" y="220.50" width="107.00" height="163.00" fill="none" stroke="#666" stroke-width="1.0"/>
<line x1="53.50" y1="261.50" x2="160.50" y2="261.50" stroke="#666" stroke-width="1.0"/>
<line x1="53.50" y1="302.50" x2="160.50" y2="302.50" stroke="#666" stroke-width="1.0"/>
<line x1="53.50" y1="342.50" x2="160.50" y2="342.50" stroke="#666" stroke-width="1.0"/>
<line x1="53.50" y1="220.50" x2="53.50" y2="222.00" stroke="#555" stroke-width="0.6"/>
<line x1="53.50" y1="383.50" x2="53.50" y2="382.00" stroke="#555" stroke-width="0.6"/>
<line x1="64.20" y1="220.50" x2="64.20" y2="222.00" stroke="#555" stroke-width="0.6"/>
<line x1="64.20" y1="383.50" x2="64.20" y2="382.00" stroke="#555" stroke-width="0.6"/>
<line x1="74.90" y1="220.50" x2="74.90" y2="222.00" stroke="#555" stroke-width="0.6"/>
<line x1="74.90" y1="383.50" x2="74.90" y2="382.00" stroke="#555" stroke-width="0.6"/>
<line x1="85.60" y1="220.50" x2="85.60" y2="222.00" stroke="#555" stroke-width="0.6"/>
<line x1="85.60" y1="383.50" x2="85.60" y2="382.00" stroke="#555" stroke-width="0.6"/>
<line x1="96.30" y1="220.50" x2="96.30" y2="222.00" stroke="#555" stroke-width="0.6"/>
<line x1="96.30" y1="383.50" x2="96.30" y2="382.00" stroke="#555" stroke-width="0.6"/>
<line x1="107.00" y1="220.50" x2="107.00" y2="222.00" stroke="#555" stroke-width="0.6"/>
<line x1="107.00" y1="383.50" x2="107.00" y2="382.00" stroke="#555" stroke-width="0.6"/>
<line x1="117.70" y1="220.50" x2="117.70" y2="222.00" stroke="#555" stroke-width="0.6"/>
<line x1="117.70" y1="383.50" x2="117.70" y2="382.00" stroke="#555" stroke-width="0.6"/>
<line x1="128.40" y1="220.50" x2="128.40" y2="222.00" stroke="#555" stroke-width="0.6"/>
<line x1="128.40" y1="383.50" x2="128.40" y2="382.00" stroke="#555" stroke-width="0.6"/>
<line x1="139.10" y1="220.50" x2="139.10" y2="222.00" stroke="#555" stroke-width="0.6"/>
<line x1="139.10" y1="383.50" x2="139.10" y2="382.00" stroke="#555" stroke-width="0.6"/>
<line x1="149.80" y1="220.50" x2="149.80" y2="222.00" stroke="#555" stroke-width="0.6"/>
<line x1="149.80" y1="383.50" x2="149.80" y2="382.00" stroke="#555" stroke-width="0.6"/>
<line x1="160.50" y1="220.50" x2="160.50" y2="222.00" stroke="#555" stroke-width="0.6"/>
<line x1="160.50" y1="383.50" x2="160.50" y2="382.00" stroke="#555" stroke-width="0.6"/>
<line x1="53.50" y1="257.40" x2="54.50" y2="257.40" stroke="#555" stroke-width="0.5"/>
<line x1="160.50" y1="257.40" x2="159.50" y2="257.40" stroke="#555" stroke-width="0.5"/>
<line x1="53.50" y1="253.30" x2="54.50" y2="253.30" stroke="#555" stroke-width="0.5"/>
<line x1="160.50" y1="253.30" x2="159.50" y2="253.30" stroke="#555" stroke-width="0.5"/>
<line x1="53.50" y1="249.20" x2="54.50" y2="249.20" stroke="#555" stroke-width="0.5"/>
<line x1="160.50" y1="249.20" x2="159.50" y2="249.20" stroke="#555" stroke-width="0.5"/>
<line x1="53.50" y1="245.10" x2="54.50" y2="245.10" stroke="#555" stroke-width="0.5"/>
<line x1="160.50" y1="245.10" x2="159.50" y2="245.10" stroke="#555" stroke-width="0.5"/>
<line x1="53.50" y1="241.00" x2="55.00" y2="241.00" stroke="#555" stroke-width="0.5"/>
<line x1="160.50" y1="241.00" x2="159.00" y2="241.00" stroke="#555" stroke-width="0.5"/>
<line x1="53.50" y1="236.90" x2="54.50" y2="236.90" stroke="#555" stroke-width="0.5"/>
<line x1="160.50" y1="236.90" x2="159.50" y2="236.90" stroke="#555" stroke-width="0.5"/>
<line x1="53.50" y1="232.80" x2="54.50" y2="232.80" stroke="#555" stroke-width="0.5"/>
<line x1="160.50" y1="232.80" x2="159.50" y2="232.80" stroke="#555" stroke-width="0.5"/>
<line x1="53.50" y1="228.70" x2="54.50" y2="228.70" stroke="#555" stroke-width="0.5"/>
<line x1="160.50" y1="228.70" x2="159.50" y2="228.70" stroke="#555" stroke-width="0.5"/>
<line x1="53.50" y1="224.60" x2="54.50" y2="224.60" stroke="#555" stroke-width="0.5"/>
<line x1="160.50" y1="224.60" x2="159.50" y2="224.60" stroke="#555" stroke-width="0.5"/>
<line x1="53.50" y1="298.40" x2="54.50" y2="298.40" stroke="#555" stroke-width="0.5"/>
<line x1="160.50" y1="298.40" x2="159.50" y2="298.40" stroke="#555" stroke-width="0.5"/>
<line x1="53.50" y1="294.30" x2="54.50" y2="294.30" stroke="#555" stroke-width="0.5"/>
<line x1="160.50" y1="294.30" x2="159.50" y2="294.30" stroke="#555" stroke-width="0.5"/>
<line x1="53.50" y1="290.20" x2="54.50" y2="290.20" stroke="#555" stroke-width="0.5"/>
<line x1="160.50" y1="290.20" x2="159.50" y2="290.20" stroke="#555" stroke-width="0.5"/>
<line x1="53.50" y1="286.10" x2="54.50" y2="286.10" stroke="#555" stroke-width="0.5"/>
<line x1="160.50" y1="286.10" x2="159.50" y2="286.10" stroke="#555" stroke-width="0.5"/>
<line x1="53.50" y1="282.00" x2="55.00" y2="282.00" stroke="#555" stroke-width="0.5"/>
<line x1="160.50" y1="282.00" x2="159.00" y2="282.00" stroke="#555" stroke-width="0.5"/>
<line x1="53.50" y1="277.90" x2="54.50" y2="277.90" stroke="#555" stroke-width="0.5"/>
<line x1="160.50" y1="277.90" x2="159.50" y2="277.90" stroke="#555" stroke-width="0.5"/>
<line x1="53.50" y1="273.80" x2="54.50" y2="273.80" stroke="#555" stroke-width="0.5"/>
<line x1="160.50" y1="273.80" x2="159.50" y2="273.80" stroke="#555" stroke-width="0.5"/>
<line x1="53.50" y1="269.70" x2="54.50" y2="269.70" stroke="#555" stroke-width="0.5"/>
<line x1="160.50" y1="269.70" x2="159.50" y2="269.70" stroke="#555" stroke-width="0.5"/>
<line x1="53.50" y1="265.60" x2="54.50" y2="265.60" stroke="#555" stroke-width="0.5"/>
<line x1="160.50" y1="265.60" x2="159.50" y2="265.60" stroke="#555" stroke-width="0.5"/>
<line x1="53.50" y1="338.50" x2="54.50" y2="338.50" stroke="#555" stroke-width="0.5"/>
<line x1="160.50" y1="338.50" x2="159.50" y2="338.50" stroke="#555" stroke-width="0.5"/>
<line x1="53.50" y1="334.50" x2="54.50" y2="334.50" stroke="#555" stroke-width="0.5"/>
<line x1="160.50" y1="334.50" x2="159.50" y2="334.50" stroke="#555" stroke-width="0.5"/>
<line x1="53.50" y1="330.50" x2="54.50" y2="330.50" stroke="#555" stroke-width="0.5"/>
<line x1="160.50" y1="330.50" x2="159.50" y2="330.50" stroke="#555" stroke-width="0.5"/>
<line x1="53.50" y1="326.50" x2="54.50" y2="326.50" stroke="#555" stroke-width="0.5"/>
<line x1="160.50" y1="326.50" x2="159.50" y2="326.50" stroke="#555" stroke-width="0.5"/>
<line x1="53.50" y1="322.50" x2="55.00" y2="322.50" stroke="#555" stroke-width="0.5"/>
<line x1="160.50" y1="322.50" x2="159.00" y2="322.50" stroke="#555" stroke-width="0.5"/>
<line x1="53.50" y1="318.50" x2="54.50" y2="318.50" stroke="#555" stroke-width="0.5"/>
<line x1="160.50" y1="318.50" x2="159.50" y2="318.50" stroke="#555" stroke-width="0.5"/>
<line x1="53.50" y1="314.50" x2="54.50" y2="314.50" stroke="#555" stroke-width="0.5"/>
<line x1="160.50" y1="314.50" x2="159.50" y2="314.50" stroke="#555" stroke-width="0.5"/>
<line x1="53.50" y1="310.50" x2="54.50" y2="310.50" stroke="#555" stroke-width="0.5"/>
<line x1="160.50" y1="310.50" x2="159.50" y2="310.50" stroke="#555" stroke-width="0.5"/>
<line x1="53.50" y1="306.50" x2="54.50" y2="306.50" stroke="#555" stroke-width="0.5"/>
<line x1="160.50" y1="306.50" x2="159.50" y2="306.50" stroke="#555" stroke-width="0.5"/>
<line x1="53.50" y1="379.40" x2="54.50" y2="379.40" stroke="#555" stroke-width="0.5"/>
<line x1="160.50" y1="379.40" x2="159.50" y2="379.40" stroke="#555" stroke-width="0.5"/>
<line x1="53.50" y1="375.30" x2="54.50" y2="375.30" stroke="#555" stroke-width="0.5"/>
<line x1="160.50" y1="375.30" x2="159.50" y2="375.30" stroke="#555" stroke-width="0.5"/>
<line x1="53.50" y1="371.20" x2="54.50" y2="371.20" stroke="#555" stroke-width="0.5"/>
<line x1="160.50" y1="371.20" x2="159.50" y2="371.20" stroke="#555" stroke-width="0.5"/>
<line x1="53.50" y1="367.10" x2="54.50" y2="367.10" stroke="#555" stroke-width="0.5"/>
<line x1="160.50" y1="367.10" x2="159.50" y2="367.10" stroke="#555" stroke-width="0.5"/>
<line x1="53.50" y1="363.00" x2="55.00" y2="363.00" stroke="#555" stroke-width="0.5"/>
<line x1="160.50" y1="363.00" x2="159.00" y2="363.00" stroke="#555" stroke-width="0.5"/>
<line x1="53.50" y1="358.90" x2="54.50" y2="358.90" stroke="#555" stroke-width="0.5"/>
<line x1="160.50" y1="358.90" x2="159.50" y2="358.90" stroke="#555" stroke-width="0.5"/>
<line x1="53.50" y1="354.80" x2="54.50" y2="354.80" stroke="#555" stroke-width="0.5"/>
<line x1="160.50" y1="354.80" x2="159.50" y2="354.80" stroke="#555" stroke-width="0.5"/>
<line x1="53.50" y1="350.70" x2="54.50" y2="350.70" stroke="#555" stroke-width="0.5"/>
<line x1="160.50" y1="350.70" x2="159.50" y2="350.70" stroke="#555" stroke-width="0.5"/>
<line x1="53.50" y1="346.60" x2="54.50" y2="346.60" stroke="#555" stroke-width="0.5"/>
<line x1="160.50" y1="346.60" x2="159.50" y2="346.60" stroke="#555" stroke-width="0.5"/>
<text x="64.20" y="216.20" font-family="Liberation Serif" font-size="11.3" text-anchor="middle" textLength="18.6" lengthAdjust="spacingAndGlyphs" fill="#111" stroke="#111" stroke-width="0.2">-0.4</text>
<text x="64.20" y="394.80" font-family="Liberation Serif" font-size="11.3" text-anchor="middle" textLength="18.6" lengthAdjust="spacingAndGlyphs" fill="#111" stroke="#111" stroke-width="0.2">-0.4</text>
<text x="85.60" y="216.20" font-family="Liberation Serif" font-size="11.3" text-anchor="middle" textLength="18.6" lengthAdjust="spacingAndGlyphs" fill="#111" stroke="#111" stroke-width="0.2">-0.2</text>
<text x="85.60" y="394.80" font-family="Liberation Serif" font-size="11.3" text-anchor="middle" textLength="18.6" lengthAdjust="spacingAndGlyphs" fill="#111" stroke="#111" stroke-width="0.2">-0.2</text>
<text x="107.00" y="216.20" font-family="Liberation Serif" font-size="11.3" text-anchor="middle" textLength="14.7" lengthAdjust="spacingAndGlyphs" fill="#111" stroke="#111" stroke-width="0.2">0.0</text>
<text x="107.00" y="394.80" font-family="Liberation Serif" font-size="11.3" text-anchor="middle" textLength="14.7" lengthAdjust="spacingAndGlyphs" fill="#111" stroke="#111" stroke-width="0.2">0.0</text>
<text x="128.40" y="216.20" font-family="Liberation Serif" font-size="11.3" text-anchor="middle" textLength="14.7" lengthAdjust="spacingAndGlyphs" fill="#111" stroke="#111" stroke-width="0.2">0.2</text>
<text x="128.40" y="394.80" font-family="Liberation Serif" font-size="11.3" text-anchor="middle" textLength="14.7" lengthAdjust="spacingAndGlyphs" fill="#111" stroke="#111" stroke-width="0.2">0.2</text>
<text x="149.80" y="216.20" font-family="Liberation Serif" font-size="11.3" text-anchor="middle" textLength="14.7" lengthAdjust="spacingAndGlyphs" fill="#111" stroke="#111" stroke-width="0.2">0.4</text>
<text x="149.80" y="394.80" font-family="Liberation Serif" font-size="11.3" text-anchor="middle" textLength="14.7" lengthAdjust="spacingAndGlyphs" fill="#111" stroke="#111" stroke-width="0.2">0.4</text>
<text x="51.90" y="267.90" font-family="Liberation Serif" font-size="11.5" text-anchor="end" textLength="15.2" lengthAdjust="spacingAndGlyphs" fill="#111" stroke="#111" stroke-width="0.2">0.0</text>
<text x="51.90" y="247.40" font-family="Liberation Serif" font-size="11.5" text-anchor="end" textLength="15.2" lengthAdjust="spacingAndGlyphs" fill="#111" stroke="#111" stroke-width="0.2">0.5</text>
<text x="51.90" y="308.90" font-family="Liberation Serif" font-size="11.5" text-anchor="end" textLength="15.2" lengthAdjust="spacingAndGlyphs" fill="#111" stroke="#111" stroke-width="0.2">0.0</text>
<text x="51.90" y="288.40" font-family="Liberation Serif" font-size="11.5" text-anchor="end" textLength="15.2" lengthAdjust="spacingAndGlyphs" fill="#111" stroke="#111" stroke-width="0.2">0.5</text>
<text x="51.90" y="348.90" font-family="Liberation Serif" font-size="11.5" text-anchor="end" textLength="15.2" lengthAdjust="spacingAndGlyphs" fill="#111" stroke="#111" stroke-width="0.2">0.0</text>
<text x="51.90" y="328.90" font-family="Liberation Serif" font-size="11.5" text-anchor="end" textLength="15.2" lengthAdjust="spacingAndGlyphs" fill="#111" stroke="#111" stroke-width="0.2">0.5</text>
<text x="51.90" y="389.90" font-family="Liberation Serif" font-size="11.5" text-anchor="end" textLength="15.2" lengthAdjust="spacingAndGlyphs" fill="#111" stroke="#111" stroke-width="0.2">0.0</text>
<text x="51.90" y="369.40" font-family="Liberation Serif" font-size="11.5" text-anchor="end" textLength="15.2" lengthAdjust="spacingAndGlyphs" fill="#111" stroke="#111" stroke-width="0.2">0.5</text>
<text x="51.90" y="227.80" font-family="Liberation Serif" font-size="11.5" text-anchor="end" textLength="15.2" lengthAdjust="spacingAndGlyphs" fill="#111" stroke="#111" stroke-width="0.2">1.0</text>
<text x="108.00" y="408.50" font-family="Liberation Serif" font-size="13" text-anchor="middle" textLength="60" lengthAdjust="spacingAndGlyphs" fill="#111" stroke="#111" stroke-width="0.25">Voltage(V)</text>
<text transform="translate(31.4 303.8) rotate(-90)" font-family="Liberation Serif" font-size="14" text-anchor="middle" fill="#111" stroke="#111" stroke-width="0.2" textLength="105" lengthAdjust="spacingAndGlyphs">Transmission(*10<tspan font-size="9" dy="-5">-2</tspan><tspan dy="5">)</tspan></text>
<text x="6.00" y="218.60" font-family="Liberation Serif" font-size="28" fill="#111" stroke="#000" stroke-width="0.15">c</text>
<path d="M295.20,261.50 L295.20,253.61 L295.59,253.26 L296.08,252.20 L296.58,251.62 L297.11,251.89 L297.64,252.39 L298.17,252.76 L298.70,253.70 L299.23,252.26 L299.76,251.18 L300.29,251.68 L300.82,252.55 L301.35,253.75 L301.88,254.78 L302.41,255.16 L302.94,254.75 L303.47,255.10 L304.00,255.19 L304.53,255.47 L305.06,255.59 L305.59,256.09 L305.80,255.98 L305.80,261.50 Z" fill="#2ee82a"/>
<line x1="295.20" y1="221.50" x2="295.20" y2="261.50" stroke="#78dc78" stroke-width="1.35" stroke-dasharray="5,3"/>
<line x1="305.80" y1="221.50" x2="305.80" y2="261.50" stroke="#78dc78" stroke-width="1.35" stroke-dasharray="5,3"/>
<line x1="300.50" y1="221.50" x2="300.50" y2="261.50" stroke="#222" stroke-width="1.3" stroke-dasharray="1.6,3.4"/>
<polyline points="260.75,221.50 261.28,222.36 261.81,223.96 262.34,225.18 262.87,226.34 263.40,226.85 263.93,228.05 264.46,229.03 264.99,229.69 265.52,230.50 266.05,231.62 266.58,232.12 267.11,232.68 267.64,233.88 268.17,234.34 268.70,234.76 269.23,235.82 269.76,235.97 270.29,236.51 270.82,236.80 271.35,237.52 271.88,238.11 272.41,238.98 272.92,239.30 273.43,238.00 273.95,240.92 274.46,241.39 274.97,242.23 275.48,242.78 276.01,242.45 276.54,242.29 277.07,241.83 277.60,241.50 278.13,242.53 278.66,243.92 279.19,243.84 279.72,244.22 280.25,244.48 280.78,244.34 281.31,244.98 281.84,245.06 282.37,245.67 282.90,246.34 283.43,246.23 283.96,246.95 284.49,247.50 285.02,248.03 285.55,247.96 286.08,248.31 286.61,248.53 287.14,249.50 287.67,249.24 288.20,249.54 288.73,248.76 289.26,250.57 289.79,251.13 290.32,251.10 290.85,251.20 291.38,251.62 291.91,251.77 292.44,251.94 292.97,252.06 293.50,251.32 294.03,253.30 294.56,253.72 295.09,253.70 295.59,253.26 296.08,252.20 296.58,251.62 297.11,251.89 297.64,252.39 298.17,252.76 298.70,253.70 299.23,252.26 299.76,251.18 300.29,251.68 300.82,252.55 301.35,253.75 301.88,254.78 302.41,255.16 302.94,254.75 303.47,255.10 304.00,255.19 304.53,255.47 305.06,255.59 305.59,256.09 306.12,255.82 306.64,256.36 307.16,256.37 307.68,256.61 308.20,256.94 308.72,256.85 309.25,256.54 309.77,256.06 310.29,256.00 310.81,256.55 311.33,255.84 311.85,256.16 312.37,256.86 312.90,256.53 313.43,256.62 313.96,256.81 314.49,256.95 315.02,257.09 315.55,257.04 316.08,256.99 316.61,257.37 317.14,257.21 317.67,257.42 318.20,257.09 318.73,257.50 319.26,257.33 319.79,257.58 320.32,257.32 320.85,257.20 321.38,257.80 321.91,257.30 322.44,257.90 322.97,258.02 323.50,258.41 324.03,258.30 324.56,258.41 325.09,257.94 325.61,258.23 326.13,258.16 326.66,257.69 327.18,257.32 327.70,257.08 328.22,257.22 328.74,257.53 329.26,257.62 329.78,257.70 330.30,257.66 330.82,257.48 331.35,257.50 331.88,257.82 332.41,257.49 332.94,257.43 333.47,257.40 334.00,257.84 334.53,257.08 335.06,256.92 335.59,256.86 336.15,256.11 336.72,254.97 337.28,253.70 337.78,254.91 338.27,256.14 338.77,257.50 339.30,257.77 339.83,257.29 340.36,256.50 340.89,256.86" fill="none" stroke="#111" stroke-width="1.05" stroke-linejoin="round"/>
<line x1="316.10" y1="228.10" x2="335.00" y2="228.10" stroke="#444" stroke-width="1.4"/>
<text x="336.00" y="230.70" font-family="Liberation Serif" font-size="8.2" textLength="14.6" lengthAdjust="spacingAndGlyphs" fill="#333" stroke="#333" stroke-width="0.2">0.1V</text>
<path d="M289.90,302.50 L289.90,290.41 L290.32,290.08 L290.84,291.16 L291.35,291.47 L291.86,292.03 L292.37,292.24 L292.89,293.24 L293.40,293.60 L293.93,293.41 L294.46,294.01 L294.99,294.19 L295.52,294.42 L296.05,294.69 L296.58,294.70 L297.11,295.53 L297.64,295.24 L298.17,296.13 L298.70,296.19 L299.23,293.73 L299.76,295.52 L300.29,295.38 L300.82,295.68 L301.35,296.15 L301.88,296.27 L302.41,296.52 L302.94,296.47 L303.47,296.72 L304.00,296.52 L304.53,296.73 L305.06,297.04 L305.59,297.31 L306.12,297.33 L306.64,297.68 L307.16,297.64 L307.68,297.99 L308.20,297.58 L308.72,297.85 L309.25,298.46 L309.77,297.95 L310.29,298.01 L310.81,297.90 L311.10,297.77 L311.10,302.50 Z" fill="#2ee82a"/>
<line x1="289.90" y1="261.50" x2="289.90" y2="302.50" stroke="#78dc78" stroke-width="1.35" stroke-dasharray="5,3"/>
<line x1="311.10" y1="261.50" x2="311.10" y2="302.50" stroke="#78dc78" stroke-width="1.35" stroke-dasharray="5,3"/>
<line x1="300.50" y1="261.50" x2="300.50" y2="302.50" stroke="#222" stroke-width="1.3" stroke-dasharray="1.6,3.4"/>
<polyline points="256.51,264.21 257.04,264.84 257.57,265.43 258.10,266.41 258.63,266.94 259.16,266.49 259.69,269.37 260.22,269.80 260.75,269.90 261.28,270.43 261.81,270.22 262.34,271.03 262.87,272.49 263.40,272.72 263.93,273.67 264.46,273.92 264.99,274.43 265.52,275.43 266.05,276.63 266.58,277.68 267.11,279.20 267.64,280.41 268.17,280.98 268.70,282.25 269.23,283.85 269.76,283.68 270.29,283.38 270.82,284.03 271.35,284.90 271.88,285.65 272.41,285.32 272.94,283.68 273.47,281.48 274.00,279.70 274.49,282.26 274.99,285.32 275.48,286.96 276.01,285.74 276.54,284.41 277.07,283.34 277.60,282.82 278.13,284.46 278.66,285.96 279.19,287.79 279.72,289.05 280.25,288.41 280.78,287.07 281.31,285.76 281.84,284.91 282.37,286.30 282.90,287.69 283.43,288.70 283.96,290.08 284.49,289.96 285.02,289.53 285.55,289.33 286.08,287.99 286.61,288.74 287.14,289.95 287.67,291.31 288.20,292.13 288.73,291.72 289.26,291.10 289.79,290.50 290.32,290.08 290.84,291.16 291.35,291.47 291.86,292.03 292.37,292.24 292.89,293.24 293.40,293.60 293.93,293.41 294.46,294.01 294.99,294.19 295.52,294.42 296.05,294.69 296.58,294.70 297.11,295.53 297.64,295.24 298.17,296.13 298.70,296.19 299.23,293.73 299.76,295.52 300.29,295.38 300.82,295.68 301.35,296.15 301.88,296.27 302.41,296.52 302.94,296.47 303.47,296.72 304.00,296.52 304.53,296.73 305.06,297.04 305.59,297.31 306.12,297.33 306.64,297.68 307.16,297.64 307.68,297.99 308.20,297.58 308.72,297.85 309.25,298.46 309.77,297.95 310.29,298.01 310.81,297.90 311.33,297.67 311.85,298.02 312.37,298.36 312.90,298.19 313.43,298.15 313.96,298.48 314.49,298.42 315.02,298.58 315.55,298.72 316.08,299.49 316.61,299.56 317.14,299.31 317.67,298.88 318.20,298.96 318.73,298.97 319.26,298.87 319.78,298.79 320.30,298.78 320.83,299.09 321.35,299.12 321.87,299.17 322.40,299.11 322.92,298.77 323.44,298.68 323.97,298.17 324.49,298.52 325.01,298.44 325.54,298.93 326.06,299.23 326.58,299.29 327.11,298.36 327.64,298.86 328.17,299.01 328.70,299.12 329.23,298.98 329.76,299.19 330.29,299.21 330.82,298.67 331.35,298.61 331.88,298.63 332.41,298.78 332.94,298.64 333.47,298.91 334.00,298.19 334.53,297.90 335.06,297.86 335.59,298.81 336.11,298.49 336.63,298.24 337.16,298.20 337.68,298.48 338.20,298.30 338.73,298.08 339.25,298.35 339.77,298.17 340.30,298.69 340.82,298.45 341.34,298.63 341.87,298.39 342.39,297.89 342.91,298.00 343.44,297.82 343.96,298.36 344.53,297.75 345.09,295.59 345.66,297.58" fill="none" stroke="#111" stroke-width="1.05" stroke-linejoin="round"/>
<line x1="316.10" y1="268.40" x2="335.00" y2="268.40" stroke="#444" stroke-width="1.4"/>
<text x="336.00" y="271.00" font-family="Liberation Serif" font-size="8.2" textLength="14.6" lengthAdjust="spacingAndGlyphs" fill="#333" stroke="#333" stroke-width="0.2">0.2V</text>
<path d="M284.60,342.50 L284.60,329.24 L284.81,328.38 L285.31,330.45 L285.80,332.53 L286.30,334.70 L286.83,334.74 L287.36,334.75 L287.89,334.55 L288.42,335.09 L288.95,335.65 L289.48,336.38 L290.01,336.05 L290.54,336.40 L291.07,336.50 L291.60,336.99 L292.13,336.68 L292.66,336.68 L293.19,336.94 L293.72,337.10 L294.25,337.03 L294.78,337.43 L295.31,337.94 L295.84,337.86 L296.37,338.07 L296.90,338.00 L297.43,337.80 L297.96,338.30 L298.49,338.42 L299.02,338.51 L299.55,338.55 L300.08,338.64 L300.61,338.59 L301.14,338.88 L301.67,339.22 L302.20,338.94 L302.73,336.93 L303.26,339.04 L303.79,339.25 L304.32,339.52 L304.85,339.52 L305.38,339.39 L305.91,339.22 L306.44,339.79 L306.97,339.74 L307.50,339.60 L308.03,339.40 L308.56,339.89 L309.09,339.61 L309.62,339.49 L310.15,339.63 L310.68,339.98 L311.22,339.70 L311.76,339.91 L312.29,340.29 L312.83,340.43 L313.37,339.93 L313.91,340.20 L314.45,340.15 L314.99,340.17 L315.53,339.68 L316.07,340.23 L316.40,340.32 L316.40,342.50 Z" fill="#2ee82a"/>
<line x1="284.60" y1="302.50" x2="284.60" y2="342.50" stroke="#78dc78" stroke-width="1.35" stroke-dasharray="5,3"/>
<line x1="316.40" y1="302.50" x2="316.40" y2="342.50" stroke="#78dc78" stroke-width="1.35" stroke-dasharray="5,3"/>
<line x1="300.50" y1="302.50" x2="300.50" y2="342.50" stroke="#222" stroke-width="1.3" stroke-dasharray="1.6,3.4"/>
<polyline points="252.38,302.50 252.91,303.33 253.44,304.42 253.97,305.36 254.50,306.25 255.03,307.15 255.56,308.38 256.09,309.08 256.62,310.31 257.15,311.17 257.68,311.60 258.21,312.21 258.74,312.62 259.27,313.55 259.80,313.98 260.33,314.25 260.86,315.35 261.39,316.20 261.92,316.82 262.45,317.93 262.98,318.63 263.51,318.70 264.04,319.17 264.57,319.66 265.10,321.02 265.63,321.21 266.16,322.30 266.69,323.73 267.22,324.59 267.75,325.24 268.28,326.30 268.81,326.14 269.34,326.06 269.87,325.47 270.40,325.58 270.93,325.70 271.46,325.22 272.01,325.23 272.56,324.51 273.11,323.87 273.66,323.79 274.21,323.54 274.72,324.75 275.23,326.33 275.74,327.84 276.25,328.95 276.76,330.50 277.29,331.25 277.82,331.54 278.35,331.77 278.88,332.12 279.41,332.10 279.94,332.62 280.47,332.85 281.00,333.37 281.53,333.42 282.06,333.91 282.59,333.74 283.12,333.66 283.68,331.93 284.25,330.66 284.81,328.38 285.31,330.45 285.80,332.53 286.30,334.70 286.83,334.74 287.36,334.75 287.89,334.55 288.42,335.09 288.95,335.65 289.48,336.38 290.01,336.05 290.54,336.40 291.07,336.50 291.60,336.99 292.13,336.68 292.66,336.68 293.19,336.94 293.72,337.10 294.25,337.03 294.78,337.43 295.31,337.94 295.84,337.86 296.37,338.07 296.90,338.00 297.43,337.80 297.96,338.30 298.49,338.42 299.02,338.51 299.55,338.55 300.08,338.64 300.61,338.59 301.14,338.88 301.67,339.22 302.20,338.94 302.73,336.93 303.26,339.04 303.79,339.25 304.32,339.52 304.85,339.52 305.38,339.39 305.91,339.22 306.44,339.79 306.97,339.74 307.50,339.60 308.03,339.40 308.56,339.89 309.09,339.61 309.62,339.49 310.15,339.63 310.68,339.98 311.22,339.70 311.76,339.91 312.29,340.29 312.83,340.43 313.37,339.93 313.91,340.20 314.45,340.15 314.99,340.17 315.53,339.68 316.07,340.23 316.61,340.38 317.11,339.15 317.60,338.23 318.10,336.82 318.63,337.82 319.16,339.11 319.69,339.68 320.22,339.98 320.75,340.07 321.28,339.86 321.81,340.08 322.34,339.86 322.87,339.81 323.40,340.27 323.93,340.20 324.46,340.34 324.99,339.98 325.52,340.18 326.05,340.19 326.58,340.24 327.11,340.16 327.64,340.38 328.17,340.22 328.70,340.22 329.23,340.05 329.76,339.99 330.29,339.93 330.82,340.03 331.35,340.46 331.88,340.58 332.41,340.69 332.94,341.02 333.47,340.74 334.00,340.54 334.53,340.93 335.06,340.54 335.59,340.73 336.12,340.38 336.65,340.69 337.18,340.49 337.71,340.22 338.24,339.64 338.77,339.57 339.30,339.22 339.83,338.82 340.36,338.94 340.89,338.89 341.42,339.41 341.95,339.55 342.48,339.43 343.01,339.96 343.54,340.31 344.07,340.39 344.60,340.62 345.13,340.85 345.66,340.68 346.19,340.33 346.72,340.04 347.25,340.14 347.78,339.99 348.31,339.90 348.84,339.96 349.37,339.97 349.90,339.86 350.43,340.07 350.96,340.38" fill="none" stroke="#111" stroke-width="1.05" stroke-linejoin="round"/>
<line x1="316.10" y1="307.50" x2="335.00" y2="307.50" stroke="#444" stroke-width="1.4"/>
<text x="336.00" y="310.10" font-family="Liberation Serif" font-size="8.2" textLength="14.6" lengthAdjust="spacingAndGlyphs" fill="#333" stroke="#333" stroke-width="0.2">0.3V</text>
<path d="M279.30,383.50 L279.30,371.49 L279.44,371.19 L279.94,370.75 L280.47,372.00 L281.00,372.48 L281.53,373.84 L282.06,375.01 L282.59,374.96 L283.12,374.73 L283.65,374.52 L284.18,373.95 L284.71,374.60 L285.24,375.44 L285.77,375.47 L286.30,375.78 L286.83,376.34 L287.36,377.14 L287.89,377.32 L288.42,377.78 L288.95,377.89 L289.48,378.19 L290.01,376.21 L290.54,378.07 L291.07,378.33 L291.60,378.45 L292.13,378.67 L292.66,378.30 L293.19,378.33 L293.72,378.83 L294.25,379.02 L294.78,379.07 L295.31,378.93 L295.84,379.03 L296.37,379.53 L296.90,379.32 L297.43,379.29 L297.96,378.98 L298.49,378.81 L299.02,379.06 L299.55,379.01 L300.08,379.24 L300.61,378.90 L301.14,378.17 L301.67,378.73 L302.20,378.98 L302.73,379.23 L303.26,380.04 L303.79,380.13 L304.32,380.75 L304.85,380.43 L305.38,380.66 L305.91,380.22 L306.44,380.61 L306.97,380.84 L307.50,381.03 L308.03,380.93 L308.56,381.03 L309.09,381.37 L309.62,380.72 L310.15,380.65 L310.68,380.30 L311.21,380.84 L311.74,381.19 L312.27,381.37 L312.80,381.37 L313.33,381.49 L313.86,381.79 L314.39,381.91 L314.92,381.90 L315.45,381.19 L315.98,380.96 L316.51,381.30 L317.04,380.97 L317.57,381.40 L318.10,381.28 L318.63,381.10 L319.16,381.33 L319.69,381.20 L320.22,381.29 L320.75,381.29 L321.28,381.37 L321.70,379.70 L321.70,383.50 Z" fill="#2ee82a"/>
<line x1="279.30" y1="342.50" x2="279.30" y2="383.50" stroke="#78dc78" stroke-width="1.35" stroke-dasharray="5,3"/>
<line x1="321.70" y1="342.50" x2="321.70" y2="383.50" stroke="#78dc78" stroke-width="1.35" stroke-dasharray="5,3"/>
<line x1="300.50" y1="342.50" x2="300.50" y2="383.50" stroke="#222" stroke-width="1.3" stroke-dasharray="1.6,3.4"/>
<polyline points="248.77,343.16 249.28,343.59 249.79,345.25 250.30,346.57 250.81,347.68 251.32,348.44 251.85,349.39 252.38,349.96 252.91,350.85 253.44,351.83 253.97,353.26 254.50,353.77 255.03,354.72 255.56,355.24 256.09,356.29 256.62,356.55 257.15,357.32 257.68,358.00 258.21,358.92 258.74,359.46 259.27,360.27 259.80,360.42 260.33,360.94 260.86,361.20 261.39,361.85 261.92,361.99 262.45,362.48 262.98,362.51 263.51,362.86 264.04,363.33 264.57,363.93 265.10,364.18 265.63,364.73 266.16,365.69 266.69,366.01 267.22,366.49 267.75,366.43 268.28,366.31 268.81,365.58 269.34,364.39 269.87,365.07 270.40,365.11 270.93,365.61 271.46,366.64 271.99,367.36 272.52,368.62 273.05,369.51 273.58,369.88 274.11,370.59 274.64,370.91 275.17,371.27 275.70,371.81 276.25,371.38 276.80,372.17 277.35,372.59 277.90,372.77 278.45,372.88 278.95,372.23 279.44,371.19 279.94,370.75 280.47,372.00 281.00,372.48 281.53,373.84 282.06,375.01 282.59,374.96 283.12,374.73 283.65,374.52 284.18,373.95 284.71,374.60 285.24,375.44 285.77,375.47 286.30,375.78 286.83,376.34 287.36,377.14 287.89,377.32 288.42,377.78 288.95,377.89 289.48,378.19 290.01,376.21 290.54,378.07 291.07,378.33 291.60,378.45 292.13,378.67 292.66,378.30 293.19,378.33 293.72,378.83 294.25,379.02 294.78,379.07 295.31,378.93 295.84,379.03 296.37,379.53 296.90,379.32 297.43,379.29 297.96,378.98 298.49,378.81 299.02,379.06 299.55,379.01 300.08,379.24 300.61,378.90 301.14,378.17 301.67,378.73 302.20,378.98 302.73,379.23 303.26,380.04 303.79,380.13 304.32,380.75 304.85,380.43 305.38,380.66 305.91,380.22 306.44,380.61 306.97,380.84 307.50,381.03 308.03,380.93 308.56,381.03 309.09,381.37 309.62,380.72 310.15,380.65 310.68,380.30 311.21,380.84 311.74,381.19 312.27,381.37 312.80,381.37 313.33,381.49 313.86,381.79 314.39,381.91 314.92,381.90 315.45,381.19 315.98,380.96 316.51,381.30 317.04,380.97 317.57,381.40 318.10,381.28 318.63,381.10 319.16,381.33 319.69,381.20 320.22,381.29 320.75,381.29 321.28,381.37 321.81,379.28 322.34,377.14 322.87,378.20 323.40,379.61 323.93,380.27 324.46,381.37 324.99,381.26 325.52,381.56 326.05,381.63 326.58,381.66 327.11,381.80 327.64,382.28 328.17,382.21 328.70,382.18 329.23,381.64 329.76,381.68 330.29,381.80 330.82,381.82 331.35,381.44 331.88,381.37 332.41,382.05 332.94,381.31 333.47,381.53 334.00,381.75 334.53,381.34 335.06,381.34 335.59,381.43 336.12,381.50 336.65,381.78 337.18,381.99 337.71,382.22 338.24,382.30 338.77,381.92 339.30,381.98 339.83,382.49 340.36,382.02 340.89,382.45 341.42,381.75 341.95,381.81 342.48,381.65 343.01,381.46 343.54,381.22 344.07,381.16 344.60,381.50 345.13,381.84 345.66,382.06 346.19,382.75 346.72,382.47 347.25,381.90 347.78,381.82 348.31,382.05 348.84,382.02 349.35,381.42 349.87,381.26 350.39,380.94 350.91,380.94 351.43,380.51 351.95,380.73 352.46,381.25 352.98,381.24 353.50,380.75" fill="none" stroke="#111" stroke-width="1.05" stroke-linejoin="round"/>
<line x1="316.10" y1="348.40" x2="335.00" y2="348.40" stroke="#444" stroke-width="1.4"/>
<text x="336.00" y="351.00" font-family="Liberation Serif" font-size="8.2" textLength="14.6" lengthAdjust="spacingAndGlyphs" fill="#333" stroke="#333" stroke-width="0.2">0.4V</text>
<rect x="247.50" y="221.50" width="106.00" height="162.00" fill="none" stroke="#666" stroke-width="1.0"/>
<line x1="247.50" y1="261.50" x2="353.50" y2="261.50" stroke="#666" stroke-width="1.0"/>
<line x1="247.50" y1="302.50" x2="353.50" y2="302.50" stroke="#666" stroke-width="1.0"/>
<line x1="247.50" y1="342.50" x2="353.50" y2="342.50" stroke="#666" stroke-width="1.0"/>
<line x1="247.50" y1="221.50" x2="247.50" y2="223.00" stroke="#555" stroke-width="0.6"/>
<line x1="247.50" y1="383.50" x2="247.50" y2="382.00" stroke="#555" stroke-width="0.6"/>
<line x1="258.10" y1="221.50" x2="258.10" y2="223.00" stroke="#555" stroke-width="0.6"/>
<line x1="258.10" y1="383.50" x2="258.10" y2="382.00" stroke="#555" stroke-width="0.6"/>
<line x1="268.70" y1="221.50" x2="268.70" y2="223.00" stroke="#555" stroke-width="0.6"/>
<line x1="268.70" y1="383.50" x2="268.70" y2="382.00" stroke="#555" stroke-width="0.6"/>
<line x1="279.30" y1="221.50" x2="279.30" y2="223.00" stroke="#555" stroke-width="0.6"/>
<line x1="279.30" y1="383.50" x2="279.30" y2="382.00" stroke="#555" stroke-width="0.6"/>
<line x1="289.90" y1="221.50" x2="289.90" y2="223.00" stroke="#555" stroke-width="0.6"/>
<line x1="289.90" y1="383.50" x2="289.90" y2="382.00" stroke="#555" stroke-width="0.6"/>
<line x1="300.50" y1="221.50" x2="300.50" y2="223.00" stroke="#555" stroke-width="0.6"/>
<line x1="300.50" y1="383.50" x2="300.50" y2="382.00" stroke="#555" stroke-width="0.6"/>
<line x1="311.10" y1="221.50" x2="311.10" y2="223.00" stroke="#555" stroke-width="0.6"/>
<line x1="311.10" y1="383.50" x2="311.10" y2="382.00" stroke="#555" stroke-width="0.6"/>
<line x1="321.70" y1="221.50" x2="321.70" y2="223.00" stroke="#555" stroke-width="0.6"/>
<line x1="321.70" y1="383.50" x2="321.70" y2="382.00" stroke="#555" stroke-width="0.6"/>
<line x1="332.30" y1="221.50" x2="332.30" y2="223.00" stroke="#555" stroke-width="0.6"/>
<line x1="332.30" y1="383.50" x2="332.30" y2="382.00" stroke="#555" stroke-width="0.6"/>
<line x1="342.90" y1="221.50" x2="342.90" y2="223.00" stroke="#555" stroke-width="0.6"/>
<line x1="342.90" y1="383.50" x2="342.90" y2="382.00" stroke="#555" stroke-width="0.6"/>
<line x1="353.50" y1="221.50" x2="353.50" y2="223.00" stroke="#555" stroke-width="0.6"/>
<line x1="353.50" y1="383.50" x2="353.50" y2="382.00" stroke="#555" stroke-width="0.6"/>
<line x1="247.50" y1="257.50" x2="248.50" y2="257.50" stroke="#555" stroke-width="0.5"/>
<line x1="353.50" y1="257.50" x2="352.50" y2="257.50" stroke="#555" stroke-width="0.5"/>
<line x1="247.50" y1="253.50" x2="248.50" y2="253.50" stroke="#555" stroke-width="0.5"/>
<line x1="353.50" y1="253.50" x2="352.50" y2="253.50" stroke="#555" stroke-width="0.5"/>
<line x1="247.50" y1="249.50" x2="248.50" y2="249.50" stroke="#555" stroke-width="0.5"/>
<line x1="353.50" y1="249.50" x2="352.50" y2="249.50" stroke="#555" stroke-width="0.5"/>
<line x1="247.50" y1="245.50" x2="248.50" y2="245.50" stroke="#555" stroke-width="0.5"/>
<line x1="353.50" y1="245.50" x2="352.50" y2="245.50" stroke="#555" stroke-width="0.5"/>
<line x1="247.50" y1="241.50" x2="249.00" y2="241.50" stroke="#555" stroke-width="0.5"/>
<line x1="353.50" y1="241.50" x2="352.00" y2="241.50" stroke="#555" stroke-width="0.5"/>
<line x1="247.50" y1="237.50" x2="248.50" y2="237.50" stroke="#555" stroke-width="0.5"/>
<line x1="353.50" y1="237.50" x2="352.50" y2="237.50" stroke="#555" stroke-width="0.5"/>
<line x1="247.50" y1="233.50" x2="248.50" y2="233.50" stroke="#555" stroke-width="0.5"/>
<line x1="353.50" y1="233.50" x2="352.50" y2="233.50" stroke="#555" stroke-width="0.5"/>
<line x1="247.50" y1="229.50" x2="248.50" y2="229.50" stroke="#555" stroke-width="0.5"/>
<line x1="353.50" y1="229.50" x2="352.50" y2="229.50" stroke="#555" stroke-width="0.5"/>
<line x1="247.50" y1="225.50" x2="248.50" y2="225.50" stroke="#555" stroke-width="0.5"/>
<line x1="353.50" y1="225.50" x2="352.50" y2="225.50" stroke="#555" stroke-width="0.5"/>
<line x1="247.50" y1="298.40" x2="248.50" y2="298.40" stroke="#555" stroke-width="0.5"/>
<line x1="353.50" y1="298.40" x2="352.50" y2="298.40" stroke="#555" stroke-width="0.5"/>
<line x1="247.50" y1="294.30" x2="248.50" y2="294.30" stroke="#555" stroke-width="0.5"/>
<line x1="353.50" y1="294.30" x2="352.50" y2="294.30" stroke="#555" stroke-width="0.5"/>
<line x1="247.50" y1="290.20" x2="248.50" y2="290.20" stroke="#555" stroke-width="0.5"/>
<line x1="353.50" y1="290.20" x2="352.50" y2="290.20" stroke="#555" stroke-width="0.5"/>
<line x1="247.50" y1="286.10" x2="248.50" y2="286.10" stroke="#555" stroke-width="0.5"/>
<line x1="353.50" y1="286.10" x2="352.50" y2="286.10" stroke="#555" stroke-width="0.5"/>
<line x1="247.50" y1="282.00" x2="249.00" y2="282.00" stroke="#555" stroke-width="0.5"/>
<line x1="353.50" y1="282.00" x2="352.00" y2="282.00" stroke="#555" stroke-width="0.5"/>
<line x1="247.50" y1="277.90" x2="248.50" y2="277.90" stroke="#555" stroke-width="0.5"/>
<line x1="353.50" y1="277.90" x2="352.50" y2="277.90" stroke="#555" stroke-width="0.5"/>
<line x1="247.50" y1="273.80" x2="248.50" y2="273.80" stroke="#555" stroke-width="0.5"/>
<line x1="353.50" y1="273.80" x2="352.50" y2="273.80" stroke="#555" stroke-width="0.5"/>
<line x1="247.50" y1="269.70" x2="248.50" y2="269.70" stroke="#555" stroke-width="0.5"/>
<line x1="353.50" y1="269.70" x2="352.50" y2="269.70" stroke="#555" stroke-width="0.5"/>
<line x1="247.50" y1="265.60" x2="248.50" y2="265.60" stroke="#555" stroke-width="0.5"/>
<line x1="353.50" y1="265.60" x2="352.50" y2="265.60" stroke="#555" stroke-width="0.5"/>
<line x1="247.50" y1="338.50" x2="248.50" y2="338.50" stroke="#555" stroke-width="0.5"/>
<line x1="353.50" y1="338.50" x2="352.50" y2="338.50" stroke="#555" stroke-width="0.5"/>
<line x1="247.50" y1="334.50" x2="248.50" y2="334.50" stroke="#555" stroke-width="0.5"/>
<line x1="353.50" y1="334.50" x2="352.50" y2="334.50" stroke="#555" stroke-width="0.5"/>
<line x1="247.50" y1="330.50" x2="248.50" y2="330.50" stroke="#555" stroke-width="0.5"/>
<line x1="353.50" y1="330.50" x2="352.50" y2="330.50" stroke="#555" stroke-width="0.5"/>
<line x1="247.50" y1="326.50" x2="248.50" y2="326.50" stroke="#555" stroke-width="0.5"/>
<line x1="353.50" y1="326.50" x2="352.50" y2="326.50" stroke="#555" stroke-width="0.5"/>
<line x1="247.50" y1="322.50" x2="249.00" y2="322.50" stroke="#555" stroke-width="0.5"/>
<line x1="353.50" y1="322.50" x2="352.00" y2="322.50" stroke="#555" stroke-width="0.5"/>
<line x1="247.50" y1="318.50" x2="248.50" y2="318.50" stroke="#555" stroke-width="0.5"/>
<line x1="353.50" y1="318.50" x2="352.50" y2="318.50" stroke="#555" stroke-width="0.5"/>
<line x1="247.50" y1="314.50" x2="248.50" y2="314.50" stroke="#555" stroke-width="0.5"/>
<line x1="353.50" y1="314.50" x2="352.50" y2="314.50" stroke="#555" stroke-width="0.5"/>
<line x1="247.50" y1="310.50" x2="248.50" y2="310.50" stroke="#555" stroke-width="0.5"/>
<line x1="353.50" y1="310.50" x2="352.50" y2="310.50" stroke="#555" stroke-width="0.5"/>
<line x1="247.50" y1="306.50" x2="248.50" y2="306.50" stroke="#555" stroke-width="0.5"/>
<line x1="353.50" y1="306.50" x2="352.50" y2="306.50" stroke="#555" stroke-width="0.5"/>
<line x1="247.50" y1="379.40" x2="248.50" y2="379.40" stroke="#555" stroke-width="0.5"/>
<line x1="353.50" y1="379.40" x2="352.50" y2="379.40" stroke="#555" stroke-width="0.5"/>
<line x1="247.50" y1="375.30" x2="248.50" y2="375.30" stroke="#555" stroke-width="0.5"/>
<line x1="353.50" y1="375.30" x2="352.50" y2="375.30" stroke="#555" stroke-width="0.5"/>
<line x1="247.50" y1="371.20" x2="248.50" y2="371.20" stroke="#555" stroke-width="0.5"/>
<line x1="353.50" y1="371.20" x2="352.50" y2="371.20" stroke="#555" stroke-width="0.5"/>
<line x1="247.50" y1="367.10" x2="248.50" y2="367.10" stroke="#555" stroke-width="0.5"/>
<line x1="353.50" y1="367.10" x2="352.50" y2="367.10" stroke="#555" stroke-width="0.5"/>
<line x1="247.50" y1="363.00" x2="249.00" y2="363.00" stroke="#555" stroke-width="0.5"/>
<line x1="353.50" y1="363.00" x2="352.00" y2="363.00" stroke="#555" stroke-width="0.5"/>
<line x1="247.50" y1="358.90" x2="248.50" y2="358.90" stroke="#555" stroke-width="0.5"/>
<line x1="353.50" y1="358.90" x2="352.50" y2="358.90" stroke="#555" stroke-width="0.5"/>
<line x1="247.50" y1="354.80" x2="248.50" y2="354.80" stroke="#555" stroke-width="0.5"/>
<line x1="353.50" y1="354.80" x2="352.50" y2="354.80" stroke="#555" stroke-width="0.5"/>
<line x1="247.50" y1="350.70" x2="248.50" y2="350.70" stroke="#555" stroke-width="0.5"/>
<line x1="353.50" y1="350.70" x2="352.50" y2="350.70" stroke="#555" stroke-width="0.5"/>
<line x1="247.50" y1="346.60" x2="248.50" y2="346.60" stroke="#555" stroke-width="0.5"/>
<line x1="353.50" y1="346.60" x2="352.50" y2="346.60" stroke="#555" stroke-width="0.5"/>
<text x="258.10" y="216.40" font-family="Liberation Serif" font-size="11.3" text-anchor="middle" textLength="18.6" lengthAdjust="spacingAndGlyphs" fill="#111" stroke="#111" stroke-width="0.2">-0.4</text>
<text x="258.10" y="395.20" font-family="Liberation Serif" font-size="11.3" text-anchor="middle" textLength="18.6" lengthAdjust="spacingAndGlyphs" fill="#111" stroke="#111" stroke-width="0.2">-0.4</text>
<text x="279.30" y="216.40" font-family="Liberation Serif" font-size="11.3" text-anchor="middle" textLength="18.6" lengthAdjust="spacingAndGlyphs" fill="#111" stroke="#111" stroke-width="0.2">-0.2</text>
<text x="279.30" y="395.20" font-family="Liberation Serif" font-size="11.3" text-anchor="middle" textLength="18.6" lengthAdjust="spacingAndGlyphs" fill="#111" stroke="#111" stroke-width="0.2">-0.2</text>
<text x="300.50" y="216.40" font-family="Liberation Serif" font-size="11.3" text-anchor="middle" textLength="14.7" lengthAdjust="spacingAndGlyphs" fill="#111" stroke="#111" stroke-width="0.2">0.0</text>
<text x="300.50" y="395.20" font-family="Liberation Serif" font-size="11.3" text-anchor="middle" textLength="14.7" lengthAdjust="spacingAndGlyphs" fill="#111" stroke="#111" stroke-width="0.2">0.0</text>
<text x="321.70" y="216.40" font-family="Liberation Serif" font-size="11.3" text-anchor="middle" textLength="14.7" lengthAdjust="spacingAndGlyphs" fill="#111" stroke="#111" stroke-width="0.2">0.2</text>
<text x="321.70" y="395.20" font-family="Liberation Serif" font-size="11.3" text-anchor="middle" textLength="14.7" lengthAdjust="spacingAndGlyphs" fill="#111" stroke="#111" stroke-width="0.2">0.2</text>
<text x="342.90" y="216.40" font-family="Liberation Serif" font-size="11.3" text-anchor="middle" textLength="14.7" lengthAdjust="spacingAndGlyphs" fill="#111" stroke="#111" stroke-width="0.2">0.4</text>
<text x="342.90" y="395.20" font-family="Liberation Serif" font-size="11.3" text-anchor="middle" textLength="14.7" lengthAdjust="spacingAndGlyphs" fill="#111" stroke="#111" stroke-width="0.2">0.4</text>
<text x="245.90" y="265.40" font-family="Liberation Serif" font-size="11.5" text-anchor="end" textLength="15.2" lengthAdjust="spacingAndGlyphs" fill="#111" stroke="#111" stroke-width="0.2">0.0</text>
<text x="245.90" y="245.40" font-family="Liberation Serif" font-size="11.5" text-anchor="end" textLength="15.2" lengthAdjust="spacingAndGlyphs" fill="#111" stroke="#111" stroke-width="0.2">0.5</text>
<text x="245.90" y="306.40" font-family="Liberation Serif" font-size="11.5" text-anchor="end" textLength="15.2" lengthAdjust="spacingAndGlyphs" fill="#111" stroke="#111" stroke-width="0.2">0.0</text>
<text x="245.90" y="285.90" font-family="Liberation Serif" font-size="11.5" text-anchor="end" textLength="15.2" lengthAdjust="spacingAndGlyphs" fill="#111" stroke="#111" stroke-width="0.2">0.5</text>
<text x="245.90" y="346.40" font-family="Liberation Serif" font-size="11.5" text-anchor="end" textLength="15.2" lengthAdjust="spacingAndGlyphs" fill="#111" stroke="#111" stroke-width="0.2">0.0</text>
<text x="245.90" y="326.40" font-family="Liberation Serif" font-size="11.5" text-anchor="end" textLength="15.2" lengthAdjust="spacingAndGlyphs" fill="#111" stroke="#111" stroke-width="0.2">0.5</text>
<text x="245.90" y="387.40" font-family="Liberation Serif" font-size="11.5" text-anchor="end" textLength="15.2" lengthAdjust="spacingAndGlyphs" fill="#111" stroke="#111" stroke-width="0.2">0.0</text>
<text x="245.90" y="366.90" font-family="Liberation Serif" font-size="11.5" text-anchor="end" textLength="15.2" lengthAdjust="spacingAndGlyphs" fill="#111" stroke="#111" stroke-width="0.2">0.5</text>
<text x="245.90" y="228.10" font-family="Liberation Serif" font-size="11.5" text-anchor="end" textLength="15.2" lengthAdjust="spacingAndGlyphs" fill="#111" stroke="#111" stroke-width="0.2">1.0</text>
<text x="301.50" y="407.60" font-family="Liberation Serif" font-size="13" text-anchor="middle" textLength="60" lengthAdjust="spacingAndGlyphs" fill="#111" stroke="#111" stroke-width="0.25">Voltage(V)</text>
<text transform="translate(225.2 300.5) rotate(-90)" font-family="Liberation Serif" font-size="14" text-anchor="middle" fill="#111" stroke="#111" stroke-width="0.2" textLength="105" lengthAdjust="spacingAndGlyphs">Transmission(*10<tspan font-size="9" dy="-5">-2</tspan><tspan dy="5">)</tspan></text>
<text x="193.60" y="222.30" font-family="Liberation Serif" font-size="29" fill="#111">d</text>
<path d="M475.20,263.50 L475.20,251.08 L475.73,251.25 L476.26,250.99 L476.79,250.86 L477.32,251.02 L477.85,250.73 L478.38,247.97 L478.91,251.20 L479.44,250.86 L479.97,250.99 L480.50,251.51 L481.03,251.61 L481.56,251.78 L482.09,252.57 L482.62,252.84 L483.13,253.08 L483.65,253.61 L484.16,253.57 L484.68,253.63 L485.19,254.06 L485.71,255.09 L485.80,255.05 L485.80,263.50 Z" fill="#1414e0"/>
<line x1="475.20" y1="222.50" x2="475.20" y2="263.50" stroke="#3838a0" stroke-width="1.1" stroke-dasharray="5,3.5"/>
<line x1="485.80" y1="222.50" x2="485.80" y2="263.50" stroke="#3838a0" stroke-width="1.1" stroke-dasharray="5,3.5"/>
<line x1="480.50" y1="222.50" x2="480.50" y2="263.50" stroke="#555" stroke-width="1.3" stroke-dasharray="1.6,3.4"/>
<polyline points="444.25,222.50 444.78,223.85 445.31,224.85 445.84,225.73 446.37,226.72 446.90,227.26 447.43,227.74 447.96,228.79 448.49,229.84 449.02,228.68 449.55,227.83 450.08,226.78 450.61,226.73 451.14,226.15 451.67,224.55 452.23,224.43 452.80,223.52 453.36,222.50 454.00,226.60 454.42,232.34 454.74,235.13 455.27,236.66 455.80,238.04 456.33,239.22 456.86,239.31 457.39,240.97 457.92,241.25 458.45,240.74 458.98,241.44 459.51,234.79 460.04,228.81 460.57,234.81 461.10,241.44 461.63,242.31 462.16,242.35 462.69,242.73 463.22,243.53 463.73,241.58 464.23,240.13 464.73,239.31 465.24,238.28 465.77,240.87 466.30,244.56 466.83,244.93 467.36,245.54 467.89,245.83 468.42,246.69 468.95,247.40 469.48,248.61 470.01,248.87 470.54,249.08 471.07,249.76 471.60,250.38 472.10,251.05 472.61,251.24 473.12,251.42 473.63,251.46 474.14,251.20 474.67,251.77 475.20,251.08 475.73,251.25 476.26,250.99 476.79,250.86 477.32,251.02 477.85,250.73 478.38,247.97 478.91,251.20 479.44,250.86 479.97,250.99 480.50,251.51 481.03,251.61 481.56,251.78 482.09,252.57 482.62,252.84 483.13,253.08 483.65,253.61 484.16,253.57 484.68,253.63 485.19,254.06 485.71,255.09 486.22,254.89 486.81,254.93 487.39,255.18 487.97,254.80 488.56,255.09 489.19,248.74 489.83,255.09 490.37,254.83 490.91,255.00 491.45,255.02 492.00,255.15 492.54,254.88 493.08,255.12 493.62,255.17 494.16,256.20 494.70,256.16 495.22,256.63 495.74,256.92 496.25,256.85 496.77,256.77 497.29,256.29 497.80,257.11 498.32,256.98 498.84,257.19 499.37,256.93 499.90,256.76 500.43,256.88 500.96,257.21 501.49,256.66 502.02,257.20 502.55,256.41 503.08,256.57 503.59,256.04 504.11,256.07 504.63,256.25 505.14,256.97 505.66,256.44 506.18,254.45 506.70,256.52 507.21,256.16 507.74,256.78 508.27,256.71 508.80,256.84 509.33,256.79 509.86,256.90 510.39,257.00 510.92,257.20 511.45,257.19 511.98,256.60 512.51,256.95 513.04,256.78 513.57,257.26 514.10,256.85 514.63,256.01 515.16,255.53 515.69,255.71 516.20,255.70 516.70,256.09 517.20,256.79 517.71,257.19 518.24,256.84 518.77,256.50 519.30,256.41 519.83,256.53 520.36,256.09 520.89,255.71" fill="none" stroke="#111" stroke-width="1.05" stroke-linejoin="round"/>
<line x1="496.10" y1="227.90" x2="513.80" y2="227.90" stroke="#444" stroke-width="1.4"/>
<text x="515.50" y="230.50" font-family="Liberation Serif" font-size="8.2" textLength="14.6" lengthAdjust="spacingAndGlyphs" fill="#333" stroke="#333" stroke-width="0.2">0.1V</text>
<path d="M469.90,303.50 L469.90,292.53 L470.01,292.66 L470.54,292.82 L471.07,292.97 L471.60,292.94 L472.13,292.94 L472.66,292.92 L473.19,292.56 L473.72,292.70 L474.25,292.83 L474.78,293.26 L475.29,293.45 L475.81,293.70 L476.33,294.15 L476.84,294.61 L477.36,294.44 L477.88,294.50 L478.39,294.37 L478.91,294.26 L479.44,294.52 L479.97,295.41 L480.50,294.74 L481.03,294.16 L481.56,294.27 L482.09,294.33 L482.62,294.79 L483.15,295.42 L483.68,295.44 L484.21,295.30 L484.73,296.24 L485.25,295.80 L485.77,296.00 L486.29,296.25 L486.82,295.93 L487.34,296.01 L487.86,295.96 L488.38,296.65 L488.90,296.21 L489.42,296.78 L489.94,297.16 L490.46,296.94 L490.99,297.53 L491.10,297.54 L491.10,303.50 Z" fill="#1414e0"/>
<line x1="469.90" y1="263.50" x2="469.90" y2="303.50" stroke="#3838a0" stroke-width="1.1" stroke-dasharray="5,3.5"/>
<line x1="491.10" y1="263.50" x2="491.10" y2="303.50" stroke="#3838a0" stroke-width="1.1" stroke-dasharray="5,3.5"/>
<line x1="480.50" y1="263.50" x2="480.50" y2="303.50" stroke="#555" stroke-width="1.3" stroke-dasharray="1.6,3.4"/>
<polyline points="439.05,264.54 439.58,265.38 440.11,266.47 440.64,267.43 441.17,268.39 441.70,269.16 442.23,270.66 442.74,270.44 443.24,271.68 443.74,272.29 444.25,272.74 444.78,272.89 445.31,273.02 445.84,273.11 446.37,273.03 446.90,273.30 447.43,273.74 447.96,274.03 448.49,274.24 449.02,275.52 449.55,275.77 450.08,277.71 450.61,277.86 451.14,278.31 451.67,279.24 452.20,279.62 452.73,280.27 453.26,280.31 453.79,280.94 454.30,281.47 454.81,282.63 455.32,283.71 455.84,283.43 456.35,284.24 456.86,285.02 457.39,285.63 457.92,286.18 458.45,286.03 458.98,285.63 459.51,286.03 460.04,287.10 460.57,286.83 461.10,287.21 461.63,287.82 462.16,288.89 462.69,288.82 463.22,289.14 463.74,288.57 464.26,288.60 464.77,289.62 465.29,289.51 465.81,290.69 466.32,290.82 466.84,291.39 467.36,291.18 467.89,292.04 468.42,291.68 468.95,291.53 469.48,291.99 470.01,292.66 470.54,292.82 471.07,292.97 471.60,292.94 472.13,292.94 472.66,292.92 473.19,292.56 473.72,292.70 474.25,292.83 474.78,293.26 475.29,293.45 475.81,293.70 476.33,294.15 476.84,294.61 477.36,294.44 477.88,294.50 478.39,294.37 478.91,294.26 479.44,294.52 479.97,295.41 480.50,294.74 481.03,294.16 481.56,294.27 482.09,294.33 482.62,294.79 483.15,295.42 483.68,295.44 484.21,295.30 484.73,296.24 485.25,295.80 485.77,296.00 486.29,296.25 486.82,295.93 487.34,296.01 487.86,295.96 488.38,296.65 488.90,296.21 489.42,296.78 489.94,297.16 490.46,296.94 490.99,297.53 491.52,297.56 492.05,296.89 492.58,298.38 493.11,297.99 493.63,298.10 494.15,298.47 494.67,298.86 495.19,298.20 495.71,297.91 496.23,298.37 496.75,298.44 497.27,298.37 497.80,297.70 498.32,298.02 498.84,297.98 499.37,298.14 499.90,297.79 500.43,297.87 500.96,297.63 501.49,297.91 502.02,298.16 502.55,298.66 503.08,297.57 503.61,297.90 504.14,297.69 504.67,297.71 505.20,298.38 505.71,297.60 506.22,297.83 506.74,297.53 507.25,296.98 507.76,297.03 508.27,296.34 508.80,297.86 509.33,298.38 509.86,299.18 510.39,298.68 510.92,298.02 511.45,297.32 511.98,297.13 512.51,297.39 513.04,296.93 513.57,296.94 514.09,296.58 514.61,296.53 515.12,296.86 515.64,296.03 516.16,295.92 516.67,296.50 517.19,295.86 517.71,295.30 518.24,296.08 518.77,295.53 519.30,296.34 519.83,296.31 520.36,296.10 520.89,296.52 521.42,296.46 521.95,296.94 522.48,296.98 523.01,296.87 523.54,296.84 524.07,297.17 524.60,297.19 525.13,297.34" fill="none" stroke="#111" stroke-width="1.05" stroke-linejoin="round"/>
<line x1="496.10" y1="269.70" x2="513.80" y2="269.70" stroke="#444" stroke-width="1.4"/>
<text x="515.50" y="272.30" font-family="Liberation Serif" font-size="8.2" textLength="14.6" lengthAdjust="spacingAndGlyphs" fill="#333" stroke="#333" stroke-width="0.2">0.2V</text>
<path d="M464.60,344.50 L464.60,332.41 L464.79,332.39 L465.31,332.84 L465.82,333.09 L466.33,333.02 L466.84,333.49 L467.36,333.51 L467.89,334.60 L468.42,334.48 L468.95,334.26 L469.48,333.88 L470.01,333.80 L470.54,332.91 L471.07,333.16 L471.60,333.51 L472.13,333.55 L472.66,334.28 L473.19,333.44 L473.72,334.58 L474.23,334.75 L474.74,333.35 L475.25,335.74 L475.77,336.22 L476.28,336.52 L476.79,336.67 L477.32,337.87 L477.85,337.50 L478.38,336.89 L478.91,336.82 L479.44,336.83 L479.97,337.01 L480.50,337.25 L481.03,337.11 L481.56,336.98 L482.09,337.74 L482.61,336.49 L483.13,336.74 L483.65,337.30 L484.17,337.20 L484.70,337.38 L485.22,338.35 L485.74,338.31 L486.26,338.46 L486.78,338.29 L487.30,338.69 L487.82,338.59 L488.34,338.80 L488.87,338.16 L489.40,338.73 L489.93,339.31 L490.46,339.47 L490.99,340.03 L491.52,339.89 L492.05,339.45 L492.58,339.67 L493.11,339.29 L493.64,339.51 L494.17,339.82 L494.70,339.87 L495.21,339.28 L495.71,339.14 L496.21,338.76 L496.40,338.38 L496.40,344.50 Z" fill="#1414e0"/>
<line x1="464.60" y1="303.50" x2="464.60" y2="344.50" stroke="#3838a0" stroke-width="1.1" stroke-dasharray="5,3.5"/>
<line x1="496.40" y1="303.50" x2="496.40" y2="344.50" stroke="#3838a0" stroke-width="1.1" stroke-dasharray="5,3.5"/>
<line x1="480.50" y1="303.50" x2="480.50" y2="344.50" stroke="#555" stroke-width="1.3" stroke-dasharray="1.6,3.4"/>
<polyline points="433.75,304.98 434.28,305.28 434.81,305.80 435.34,307.03 435.87,307.11 436.40,308.66 436.93,309.61 437.46,311.35 437.99,312.36 438.52,313.25 439.05,313.87 439.58,313.94 440.11,314.86 440.64,315.49 441.17,316.62 441.69,316.99 442.20,317.41 442.71,318.08 443.22,318.56 443.74,319.13 444.25,319.78 444.78,318.17 445.31,315.41 445.84,313.89 446.37,312.36 446.90,309.50 447.43,306.04 447.96,311.19 448.49,315.55 449.02,317.75 449.55,320.32 450.08,321.05 450.61,322.93 451.14,324.11 451.67,324.26 452.20,324.56 452.73,325.07 453.23,325.80 453.74,326.73 454.24,327.14 454.74,328.22 455.27,327.51 455.80,328.31 456.33,329.86 456.86,329.91 457.39,330.58 457.92,330.36 458.45,329.94 458.98,329.01 459.51,328.34 460.04,327.16 460.57,329.82 461.10,330.97 461.63,332.05 462.16,331.92 462.69,331.94 463.22,332.89 463.75,333.25 464.28,332.45 464.79,332.39 465.31,332.84 465.82,333.09 466.33,333.02 466.84,333.49 467.36,333.51 467.89,334.60 468.42,334.48 468.95,334.26 469.48,333.88 470.01,333.80 470.54,332.91 471.07,333.16 471.60,333.51 472.13,333.55 472.66,334.28 473.19,333.44 473.72,334.58 474.23,334.75 474.74,333.35 475.25,335.74 475.77,336.22 476.28,336.52 476.79,336.67 477.32,337.87 477.85,337.50 478.38,336.89 478.91,336.82 479.44,336.83 479.97,337.01 480.50,337.25 481.03,337.11 481.56,336.98 482.09,337.74 482.61,336.49 483.13,336.74 483.65,337.30 484.17,337.20 484.70,337.38 485.22,338.35 485.74,338.31 486.26,338.46 486.78,338.29 487.30,338.69 487.82,338.59 488.34,338.80 488.87,338.16 489.40,338.73 489.93,339.31 490.46,339.47 490.99,340.03 491.52,339.89 492.05,339.45 492.58,339.67 493.11,339.29 493.64,339.51 494.17,339.82 494.70,339.87 495.21,339.28 495.71,339.14 496.21,338.76 496.72,337.74 497.25,338.50 497.78,338.25 498.31,337.92 498.84,338.58 499.37,338.73 499.90,339.87 500.43,339.89 500.96,339.83 501.49,339.50 502.02,339.28 502.55,339.83 503.08,337.62 503.61,339.82 504.14,338.94 504.67,338.65 505.20,338.80 505.71,339.30 506.23,340.10 506.75,340.32 507.26,340.70 507.78,341.43 508.30,341.25 508.82,341.47 509.33,341.96 509.86,341.18 510.39,340.90 510.92,339.52 511.45,338.80 511.98,334.54 512.51,331.38 513.01,328.98 513.50,327.45 514.00,325.07 514.56,329.64 515.13,334.48 515.69,338.80 516.21,339.38 516.73,338.80 517.24,338.58 517.76,338.55 518.28,338.61 518.79,338.83 519.31,338.95 519.83,339.87 520.36,338.78 520.89,338.02 521.42,337.32 521.95,336.67 522.48,337.83 523.01,338.77 523.54,339.57 524.07,340.89 524.60,340.18 525.13,339.54 525.66,339.04 526.19,338.14 526.72,337.55 527.25,336.67 527.75,337.47 528.25,337.77 528.76,338.58 529.26,339.87" fill="none" stroke="#111" stroke-width="1.05" stroke-linejoin="round"/>
<line x1="496.10" y1="309.20" x2="513.80" y2="309.20" stroke="#444" stroke-width="1.4"/>
<text x="515.50" y="311.80" font-family="Liberation Serif" font-size="8.2" textLength="14.6" lengthAdjust="spacingAndGlyphs" fill="#333" stroke="#333" stroke-width="0.2">0.3V</text>
<path d="M459.30,385.50 L459.30,374.88 L459.51,375.21 L460.04,376.44 L460.57,375.88 L461.10,375.99 L461.63,375.35 L462.16,375.23 L462.69,375.62 L463.22,375.37 L463.73,375.26 L464.23,376.15 L464.73,376.00 L465.24,376.44 L465.77,374.07 L466.30,370.98 L466.83,368.15 L467.36,365.66 L467.89,368.71 L468.42,371.81 L468.95,374.62 L469.48,378.61 L470.01,378.35 L470.54,378.28 L471.07,378.21 L471.60,377.48 L472.13,377.94 L472.66,377.16 L473.19,377.21 L473.72,377.50 L474.23,377.14 L474.75,377.28 L475.27,376.99 L475.78,378.27 L476.30,378.27 L476.82,378.37 L477.33,378.58 L477.85,378.61 L478.38,378.50 L478.91,378.95 L479.44,378.79 L479.97,378.65 L480.50,378.45 L481.03,378.07 L481.56,377.83 L482.09,378.61 L482.61,378.49 L483.12,378.94 L483.64,379.23 L484.16,378.97 L484.67,379.16 L485.19,379.39 L485.71,379.65 L486.22,379.68 L486.75,377.27 L487.28,375.07 L487.81,372.70 L488.34,372.13 L488.87,372.77 L489.40,375.32 L489.93,377.43 L490.46,379.68 L490.99,379.71 L491.52,380.54 L492.05,380.47 L492.58,379.97 L493.11,379.97 L493.64,379.98 L494.17,380.60 L494.70,380.74 L495.22,380.89 L495.74,381.71 L496.25,381.83 L496.77,382.26 L497.29,381.87 L497.80,381.45 L498.32,381.32 L498.84,381.19 L499.37,381.49 L499.90,382.00 L500.43,382.15 L500.96,382.23 L501.49,382.45 L501.70,382.64 L501.70,385.50 Z" fill="#1414e0"/>
<line x1="459.30" y1="344.50" x2="459.30" y2="385.50" stroke="#3838a0" stroke-width="1.1" stroke-dasharray="5,3.5"/>
<line x1="501.70" y1="344.50" x2="501.70" y2="385.50" stroke="#3838a0" stroke-width="1.1" stroke-dasharray="5,3.5"/>
<line x1="480.50" y1="344.50" x2="480.50" y2="385.50" stroke="#555" stroke-width="1.3" stroke-dasharray="1.6,3.4"/>
<polyline points="427.50,354.87 428.03,353.17 428.56,350.53 429.09,348.86 429.62,346.22 430.15,347.20 430.68,347.78 431.21,347.88 431.74,347.29 432.24,349.80 432.75,351.41 433.25,352.70 433.75,353.77 434.28,356.07 434.81,357.48 435.34,359.88 435.87,361.35 436.40,362.68 436.93,362.70 437.46,363.66 437.99,363.34 438.52,364.10 439.05,365.66 439.58,363.62 440.11,363.34 440.64,360.23 441.17,360.99 441.70,360.25 442.23,359.18 442.74,360.65 443.24,361.91 443.74,364.20 444.25,365.66 444.78,366.17 445.31,366.57 445.84,367.23 446.37,367.54 446.90,368.61 447.43,368.89 447.96,369.10 448.49,369.20 449.02,369.71 449.55,370.23 450.08,369.68 450.61,369.96 451.14,368.01 451.67,366.76 452.20,365.04 452.73,364.25 453.26,362.88 453.79,361.35 454.26,356.05 454.74,350.53 455.31,353.52 455.87,356.76 456.44,359.18 456.93,364.16 457.43,367.94 457.92,373.20 458.45,373.32 458.98,374.39 459.51,375.21 460.04,376.44 460.57,375.88 461.10,375.99 461.63,375.35 462.16,375.23 462.69,375.62 463.22,375.37 463.73,375.26 464.23,376.15 464.73,376.00 465.24,376.44 465.77,374.07 466.30,370.98 466.83,368.15 467.36,365.66 467.89,368.71 468.42,371.81 468.95,374.62 469.48,378.61 470.01,378.35 470.54,378.28 471.07,378.21 471.60,377.48 472.13,377.94 472.66,377.16 473.19,377.21 473.72,377.50 474.23,377.14 474.75,377.28 475.27,376.99 475.78,378.27 476.30,378.27 476.82,378.37 477.33,378.58 477.85,378.61 478.38,378.50 478.91,378.95 479.44,378.79 479.97,378.65 480.50,378.45 481.03,378.07 481.56,377.83 482.09,378.61 482.61,378.49 483.12,378.94 483.64,379.23 484.16,378.97 484.67,379.16 485.19,379.39 485.71,379.65 486.22,379.68 486.75,377.27 487.28,375.07 487.81,372.70 488.34,372.13 488.87,372.77 489.40,375.32 489.93,377.43 490.46,379.68 490.99,379.71 491.52,380.54 492.05,380.47 492.58,379.97 493.11,379.97 493.64,379.98 494.17,380.60 494.70,380.74 495.22,380.89 495.74,381.71 496.25,381.83 496.77,382.26 497.29,381.87 497.80,381.45 498.32,381.32 498.84,381.19 499.37,381.49 499.90,382.00 500.43,382.15 500.96,382.23 501.49,382.45 502.02,382.92 502.55,379.97 503.08,378.01 503.61,374.81 504.14,373.20 504.67,374.95 505.20,377.86 505.73,380.21 506.26,381.85 506.77,382.46 507.28,382.20 507.80,382.13 508.31,381.60 508.82,381.72 509.33,381.85 509.86,381.33 510.39,380.97 510.92,381.85 511.45,381.39 511.98,380.83 512.51,381.44 513.04,381.56 513.57,380.74 514.09,380.51 514.61,379.77 515.12,379.32 515.64,378.02 516.16,377.59 516.67,377.55 517.19,377.04 517.71,376.44 518.24,377.65 518.77,378.49 519.30,380.03 519.83,381.85 520.36,381.91 520.89,381.16 521.42,381.64 521.95,381.51 522.48,381.20 523.01,381.45 523.54,381.70 524.07,381.85 524.58,380.58 525.10,381.15 525.62,381.11 526.13,381.09 526.65,381.04 527.17,381.23 527.68,380.92 528.20,381.19 528.73,381.25 529.26,380.86 529.79,381.42 530.32,381.63 530.85,381.83 531.38,382.07 531.91,381.98 532.44,381.68 532.97,379.90 533.50,381.85" fill="none" stroke="#111" stroke-width="1.05" stroke-linejoin="round"/>
<line x1="496.10" y1="349.40" x2="513.80" y2="349.40" stroke="#444" stroke-width="1.4"/>
<text x="515.50" y="352.00" font-family="Liberation Serif" font-size="8.2" textLength="14.6" lengthAdjust="spacingAndGlyphs" fill="#333" stroke="#333" stroke-width="0.2">0.4V</text>
<rect x="427.50" y="222.50" width="106.00" height="163.00" fill="none" stroke="#666" stroke-width="1.0"/>
<line x1="427.50" y1="263.50" x2="533.50" y2="263.50" stroke="#666" stroke-width="1.0"/>
<line x1="427.50" y1="303.50" x2="533.50" y2="303.50" stroke="#666" stroke-width="1.0"/>
<line x1="427.50" y1="344.50" x2="533.50" y2="344.50" stroke="#666" stroke-width="1.0"/>
<line x1="427.50" y1="222.50" x2="427.50" y2="224.00" stroke="#555" stroke-width="0.6"/>
<line x1="427.50" y1="385.50" x2="427.50" y2="384.00" stroke="#555" stroke-width="0.6"/>
<line x1="438.10" y1="222.50" x2="438.10" y2="224.00" stroke="#555" stroke-width="0.6"/>
<line x1="438.10" y1="385.50" x2="438.10" y2="384.00" stroke="#555" stroke-width="0.6"/>
<line x1="448.70" y1="222.50" x2="448.70" y2="224.00" stroke="#555" stroke-width="0.6"/>
<line x1="448.70" y1="385.50" x2="448.70" y2="384.00" stroke="#555" stroke-width="0.6"/>
<line x1="459.30" y1="222.50" x2="459.30" y2="224.00" stroke="#555" stroke-width="0.6"/>
<line x1="459.30" y1="385.50" x2="459.30" y2="384.00" stroke="#555" stroke-width="0.6"/>
<line x1="469.90" y1="222.50" x2="469.90" y2="224.00" stroke="#555" stroke-width="0.6"/>
<line x1="469.90" y1="385.50" x2="469.90" y2="384.00" stroke="#555" stroke-width="0.6"/>
<line x1="480.50" y1="222.50" x2="480.50" y2="224.00" stroke="#555" stroke-width="0.6"/>
<line x1="480.50" y1="385.50" x2="480.50" y2="384.00" stroke="#555" stroke-width="0.6"/>
<line x1="491.10" y1="222.50" x2="491.10" y2="224.00" stroke="#555" stroke-width="0.6"/>
<line x1="491.10" y1="385.50" x2="491.10" y2="384.00" stroke="#555" stroke-width="0.6"/>
<line x1="501.70" y1="222.50" x2="501.70" y2="224.00" stroke="#555" stroke-width="0.6"/>
<line x1="501.70" y1="385.50" x2="501.70" y2="384.00" stroke="#555" stroke-width="0.6"/>
<line x1="512.30" y1="222.50" x2="512.30" y2="224.00" stroke="#555" stroke-width="0.6"/>
<line x1="512.30" y1="385.50" x2="512.30" y2="384.00" stroke="#555" stroke-width="0.6"/>
<line x1="522.90" y1="222.50" x2="522.90" y2="224.00" stroke="#555" stroke-width="0.6"/>
<line x1="522.90" y1="385.50" x2="522.90" y2="384.00" stroke="#555" stroke-width="0.6"/>
<line x1="533.50" y1="222.50" x2="533.50" y2="224.00" stroke="#555" stroke-width="0.6"/>
<line x1="533.50" y1="385.50" x2="533.50" y2="384.00" stroke="#555" stroke-width="0.6"/>
<line x1="427.50" y1="259.40" x2="428.50" y2="259.40" stroke="#555" stroke-width="0.5"/>
<line x1="533.50" y1="259.40" x2="532.50" y2="259.40" stroke="#555" stroke-width="0.5"/>
<line x1="427.50" y1="255.30" x2="428.50" y2="255.30" stroke="#555" stroke-width="0.5"/>
<line x1="533.50" y1="255.30" x2="532.50" y2="255.30" stroke="#555" stroke-width="0.5"/>
<line x1="427.50" y1="251.20" x2="428.50" y2="251.20" stroke="#555" stroke-width="0.5"/>
<line x1="533.50" y1="251.20" x2="532.50" y2="251.20" stroke="#555" stroke-width="0.5"/>
<line x1="427.50" y1="247.10" x2="428.50" y2="247.10" stroke="#555" stroke-width="0.5"/>
<line x1="533.50" y1="247.10" x2="532.50" y2="247.10" stroke="#555" stroke-width="0.5"/>
<line x1="427.50" y1="243.00" x2="429.00" y2="243.00" stroke="#555" stroke-width="0.5"/>
<line x1="533.50" y1="243.00" x2="532.00" y2="243.00" stroke="#555" stroke-width="0.5"/>
<line x1="427.50" y1="238.90" x2="428.50" y2="238.90" stroke="#555" stroke-width="0.5"/>
<line x1="533.50" y1="238.90" x2="532.50" y2="238.90" stroke="#555" stroke-width="0.5"/>
<line x1="427.50" y1="234.80" x2="428.50" y2="234.80" stroke="#555" stroke-width="0.5"/>
<line x1="533.50" y1="234.80" x2="532.50" y2="234.80" stroke="#555" stroke-width="0.5"/>
<line x1="427.50" y1="230.70" x2="428.50" y2="230.70" stroke="#555" stroke-width="0.5"/>
<line x1="533.50" y1="230.70" x2="532.50" y2="230.70" stroke="#555" stroke-width="0.5"/>
<line x1="427.50" y1="226.60" x2="428.50" y2="226.60" stroke="#555" stroke-width="0.5"/>
<line x1="533.50" y1="226.60" x2="532.50" y2="226.60" stroke="#555" stroke-width="0.5"/>
<line x1="427.50" y1="299.50" x2="428.50" y2="299.50" stroke="#555" stroke-width="0.5"/>
<line x1="533.50" y1="299.50" x2="532.50" y2="299.50" stroke="#555" stroke-width="0.5"/>
<line x1="427.50" y1="295.50" x2="428.50" y2="295.50" stroke="#555" stroke-width="0.5"/>
<line x1="533.50" y1="295.50" x2="532.50" y2="295.50" stroke="#555" stroke-width="0.5"/>
<line x1="427.50" y1="291.50" x2="428.50" y2="291.50" stroke="#555" stroke-width="0.5"/>
<line x1="533.50" y1="291.50" x2="532.50" y2="291.50" stroke="#555" stroke-width="0.5"/>
<line x1="427.50" y1="287.50" x2="428.50" y2="287.50" stroke="#555" stroke-width="0.5"/>
<line x1="533.50" y1="287.50" x2="532.50" y2="287.50" stroke="#555" stroke-width="0.5"/>
<line x1="427.50" y1="283.50" x2="429.00" y2="283.50" stroke="#555" stroke-width="0.5"/>
<line x1="533.50" y1="283.50" x2="532.00" y2="283.50" stroke="#555" stroke-width="0.5"/>
<line x1="427.50" y1="279.50" x2="428.50" y2="279.50" stroke="#555" stroke-width="0.5"/>
<line x1="533.50" y1="279.50" x2="532.50" y2="279.50" stroke="#555" stroke-width="0.5"/>
<line x1="427.50" y1="275.50" x2="428.50" y2="275.50" stroke="#555" stroke-width="0.5"/>
<line x1="533.50" y1="275.50" x2="532.50" y2="275.50" stroke="#555" stroke-width="0.5"/>
<line x1="427.50" y1="271.50" x2="428.50" y2="271.50" stroke="#555" stroke-width="0.5"/>
<line x1="533.50" y1="271.50" x2="532.50" y2="271.50" stroke="#555" stroke-width="0.5"/>
<line x1="427.50" y1="267.50" x2="428.50" y2="267.50" stroke="#555" stroke-width="0.5"/>
<line x1="533.50" y1="267.50" x2="532.50" y2="267.50" stroke="#555" stroke-width="0.5"/>
<line x1="427.50" y1="340.40" x2="428.50" y2="340.40" stroke="#555" stroke-width="0.5"/>
<line x1="533.50" y1="340.40" x2="532.50" y2="340.40" stroke="#555" stroke-width="0.5"/>
<line x1="427.50" y1="336.30" x2="428.50" y2="336.30" stroke="#555" stroke-width="0.5"/>
<line x1="533.50" y1="336.30" x2="532.50" y2="336.30" stroke="#555" stroke-width="0.5"/>
<line x1="427.50" y1="332.20" x2="428.50" y2="332.20" stroke="#555" stroke-width="0.5"/>
<line x1="533.50" y1="332.20" x2="532.50" y2="332.20" stroke="#555" stroke-width="0.5"/>
<line x1="427.50" y1="328.10" x2="428.50" y2="328.10" stroke="#555" stroke-width="0.5"/>
<line x1="533.50" y1="328.10" x2="532.50" y2="328.10" stroke="#555" stroke-width="0.5"/>
<line x1="427.50" y1="324.00" x2="429.00" y2="324.00" stroke="#555" stroke-width="0.5"/>
<line x1="533.50" y1="324.00" x2="532.00" y2="324.00" stroke="#555" stroke-width="0.5"/>
<line x1="427.50" y1="319.90" x2="428.50" y2="319.90" stroke="#555" stroke-width="0.5"/>
<line x1="533.50" y1="319.90" x2="532.50" y2="319.90" stroke="#555" stroke-width="0.5"/>
<line x1="427.50" y1="315.80" x2="428.50" y2="315.80" stroke="#555" stroke-width="0.5"/>
<line x1="533.50" y1="315.80" x2="532.50" y2="315.80" stroke="#555" stroke-width="0.5"/>
<line x1="427.50" y1="311.70" x2="428.50" y2="311.70" stroke="#555" stroke-width="0.5"/>
<line x1="533.50" y1="311.70" x2="532.50" y2="311.70" stroke="#555" stroke-width="0.5"/>
<line x1="427.50" y1="307.60" x2="428.50" y2="307.60" stroke="#555" stroke-width="0.5"/>
<line x1="533.50" y1="307.60" x2="532.50" y2="307.60" stroke="#555" stroke-width="0.5"/>
<line x1="427.50" y1="381.40" x2="428.50" y2="381.40" stroke="#555" stroke-width="0.5"/>
<line x1="533.50" y1="381.40" x2="532.50" y2="381.40" stroke="#555" stroke-width="0.5"/>
<line x1="427.50" y1="377.30" x2="428.50" y2="377.30" stroke="#555" stroke-width="0.5"/>
<line x1="533.50" y1="377.30" x2="532.50" y2="377.30" stroke="#555" stroke-width="0.5"/>
<line x1="427.50" y1="373.20" x2="428.50" y2="373.20" stroke="#555" stroke-width="0.5"/>
<line x1="533.50" y1="373.20" x2="532.50" y2="373.20" stroke="#555" stroke-width="0.5"/>
<line x1="427.50" y1="369.10" x2="428.50" y2="369.10" stroke="#555" stroke-width="0.5"/>
<line x1="533.50" y1="369.10" x2="532.50" y2="369.10" stroke="#555" stroke-width="0.5"/>
<line x1="427.50" y1="365.00" x2="429.00" y2="365.00" stroke="#555" stroke-width="0.5"/>
<line x1="533.50" y1="365.00" x2="532.00" y2="365.00" stroke="#555" stroke-width="0.5"/>
<line x1="427.50" y1="360.90" x2="428.50" y2="360.90" stroke="#555" stroke-width="0.5"/>
<line x1="533.50" y1="360.90" x2="532.50" y2="360.90" stroke="#555" stroke-width="0.5"/>
<line x1="427.50" y1="356.80" x2="428.50" y2="356.80" stroke="#555" stroke-width="0.5"/>
<line x1="533.50" y1="356.80" x2="532.50" y2="356.80" stroke="#555" stroke-width="0.5"/>
<line x1="427.50" y1="352.70" x2="428.50" y2="352.70" stroke="#555" stroke-width="0.5"/>
<line x1="533.50" y1="352.70" x2="532.50" y2="352.70" stroke="#555" stroke-width="0.5"/>
<line x1="427.50" y1="348.60" x2="428.50" y2="348.60" stroke="#555" stroke-width="0.5"/>
<line x1="533.50" y1="348.60" x2="532.50" y2="348.60" stroke="#555" stroke-width="0.5"/>
<text x="438.10" y="219.30" font-family="Liberation Serif" font-size="11.3" text-anchor="middle" textLength="18.6" lengthAdjust="spacingAndGlyphs" fill="#111" stroke="#111" stroke-width="0.2">-0.4</text>
<text x="438.10" y="395.60" font-family="Liberation Serif" font-size="11.3" text-anchor="middle" textLength="18.6" lengthAdjust="spacingAndGlyphs" fill="#111" stroke="#111" stroke-width="0.2">-0.4</text>
<text x="459.30" y="219.30" font-family="Liberation Serif" font-size="11.3" text-anchor="middle" textLength="18.6" lengthAdjust="spacingAndGlyphs" fill="#111" stroke="#111" stroke-width="0.2">-0.2</text>
<text x="459.30" y="395.60" font-family="Liberation Serif" font-size="11.3" text-anchor="middle" textLength="18.6" lengthAdjust="spacingAndGlyphs" fill="#111" stroke="#111" stroke-width="0.2">-0.2</text>
<text x="480.50" y="219.30" font-family="Liberation Serif" font-size="11.3" text-anchor="middle" textLength="14.7" lengthAdjust="spacingAndGlyphs" fill="#111" stroke="#111" stroke-width="0.2">0.0</text>
<text x="480.50" y="395.60" font-family="Liberation Serif" font-size="11.3" text-anchor="middle" textLength="14.7" lengthAdjust="spacingAndGlyphs" fill="#111" stroke="#111" stroke-width="0.2">0.0</text>
<text x="501.70" y="219.30" font-family="Liberation Serif" font-size="11.3" text-anchor="middle" textLength="14.7" lengthAdjust="spacingAndGlyphs" fill="#111" stroke="#111" stroke-width="0.2">0.2</text>
<text x="501.70" y="395.60" font-family="Liberation Serif" font-size="11.3" text-anchor="middle" textLength="14.7" lengthAdjust="spacingAndGlyphs" fill="#111" stroke="#111" stroke-width="0.2">0.2</text>
<text x="522.90" y="219.30" font-family="Liberation Serif" font-size="11.3" text-anchor="middle" textLength="14.7" lengthAdjust="spacingAndGlyphs" fill="#111" stroke="#111" stroke-width="0.2">0.4</text>
<text x="522.90" y="395.60" font-family="Liberation Serif" font-size="11.3" text-anchor="middle" textLength="14.7" lengthAdjust="spacingAndGlyphs" fill="#111" stroke="#111" stroke-width="0.2">0.4</text>
<text x="425.90" y="265.60" font-family="Liberation Serif" font-size="11.5" text-anchor="end" textLength="15.2" lengthAdjust="spacingAndGlyphs" fill="#111" stroke="#111" stroke-width="0.2">0.0</text>
<text x="425.90" y="245.10" font-family="Liberation Serif" font-size="11.5" text-anchor="end" textLength="15.2" lengthAdjust="spacingAndGlyphs" fill="#111" stroke="#111" stroke-width="0.2">0.5</text>
<text x="425.90" y="305.60" font-family="Liberation Serif" font-size="11.5" text-anchor="end" textLength="15.2" lengthAdjust="spacingAndGlyphs" fill="#111" stroke="#111" stroke-width="0.2">0.0</text>
<text x="425.90" y="285.60" font-family="Liberation Serif" font-size="11.5" text-anchor="end" textLength="15.2" lengthAdjust="spacingAndGlyphs" fill="#111" stroke="#111" stroke-width="0.2">0.5</text>
<text x="425.90" y="346.60" font-family="Liberation Serif" font-size="11.5" text-anchor="end" textLength="15.2" lengthAdjust="spacingAndGlyphs" fill="#111" stroke="#111" stroke-width="0.2">0.0</text>
<text x="425.90" y="326.10" font-family="Liberation Serif" font-size="11.5" text-anchor="end" textLength="15.2" lengthAdjust="spacingAndGlyphs" fill="#111" stroke="#111" stroke-width="0.2">0.5</text>
<text x="425.90" y="387.60" font-family="Liberation Serif" font-size="11.5" text-anchor="end" textLength="15.2" lengthAdjust="spacingAndGlyphs" fill="#111" stroke="#111" stroke-width="0.2">0.0</text>
<text x="425.90" y="367.10" font-family="Liberation Serif" font-size="11.5" text-anchor="end" textLength="15.2" lengthAdjust="spacingAndGlyphs" fill="#111" stroke="#111" stroke-width="0.2">0.5</text>
<text x="425.90" y="228.10" font-family="Liberation Serif" font-size="11.5" text-anchor="end" textLength="15.2" lengthAdjust="spacingAndGlyphs" fill="#111" stroke="#111" stroke-width="0.2">1.0</text>
<text x="481.50" y="408.60" font-family="Liberation Serif" font-size="13" text-anchor="middle" textLength="60" lengthAdjust="spacingAndGlyphs" fill="#111" stroke="#111" stroke-width="0.25">Voltage(V)</text>
<text transform="translate(405.5 303.8) rotate(-90)" font-family="Liberation Serif" font-size="14" text-anchor="middle" fill="#111" stroke="#111" stroke-width="0.2" textLength="105" lengthAdjust="spacingAndGlyphs">Transmission(*10<tspan font-size="9" dy="-5">-2</tspan><tspan dy="5">)</tspan></text>
<text x="374.60" y="222.00" font-family="Liberation Serif" font-size="29" fill="#111">e</text></svg></body></html>
